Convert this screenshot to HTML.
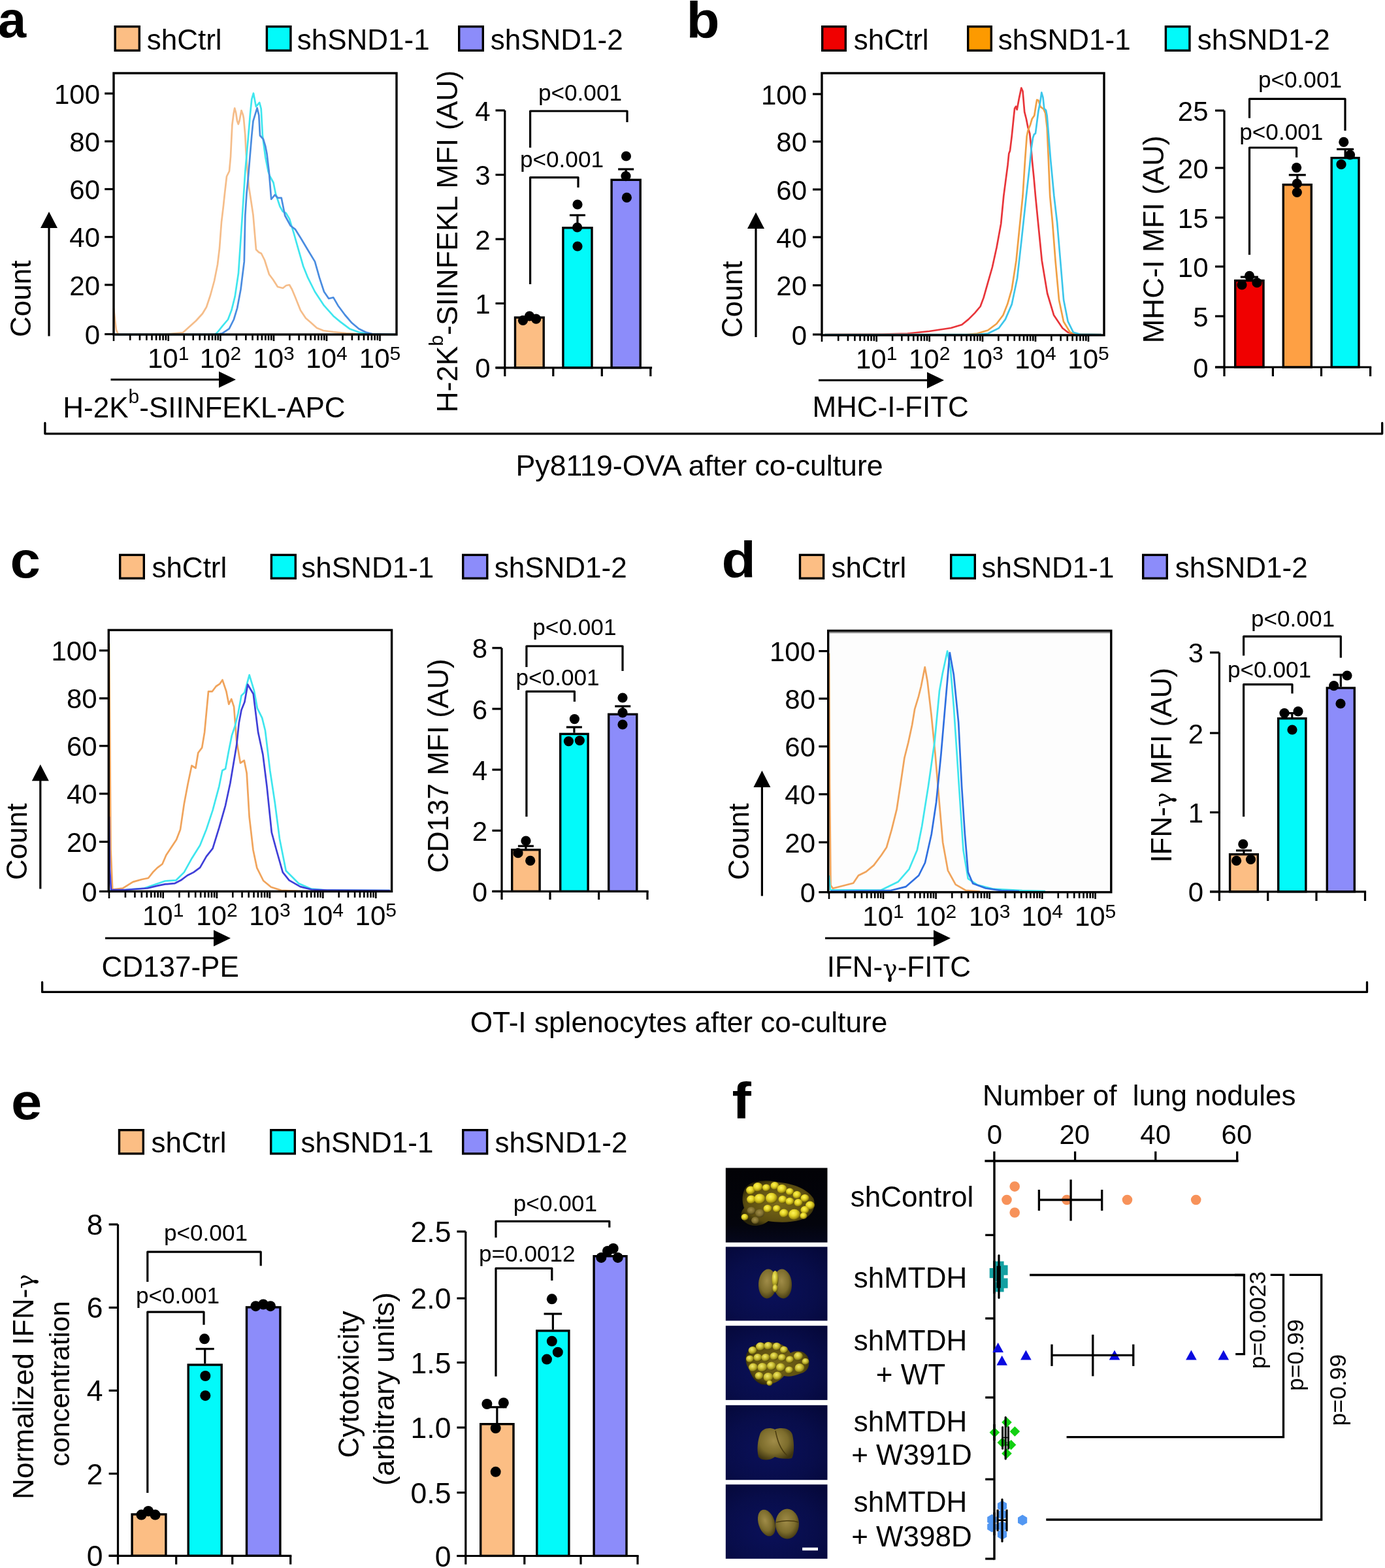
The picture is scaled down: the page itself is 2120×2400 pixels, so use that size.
<!DOCTYPE html>
<html><head><meta charset="utf-8"><title>Figure</title>
<style>html,body{margin:0;padding:0;background:#fff;width:2120px;height:2400px;overflow:hidden}svg{display:block}</style>
</head><body>
<svg width="2120" height="2400" viewBox="0 0 2120 2400" font-family="&apos;Liberation Sans&apos;, Arial, Helvetica, sans-serif">
<rect width="2120" height="2400" fill="#fff"/>
<text transform="translate(-3.2 57) scale(1 1)" x="0" y="0" font-size="78" font-weight="bold">a</text>
<rect x="176.2" y="40.7" width="37.1" height="36.6" fill="#FCBE84" stroke="#000" stroke-width="3.4"/>
<text x="224.7" y="75.5" font-size="44">shCtrl</text>
<rect x="408.4" y="40.7" width="36.5" height="36.6" fill="#02FAFA" stroke="#000" stroke-width="3.4"/>
<text x="454.7" y="75.5" font-size="44">shSND1-1</text>
<rect x="702.7" y="40.7" width="36.6" height="36.6" fill="#8C8CFA" stroke="#000" stroke-width="3.4"/>
<text x="750.7" y="75.5" font-size="44">shSND1-2</text>
<polyline points="174,472 176,490 178,505 181,512 250,512 270,510 280,509 290,500 300,491 310,480 316,470 322,452 328,430 333,405 336,380 339,340 342,315 344,296 347,270 351,262 353,240 354,219 355.4,191 357.6,174 359.2,165.5 361,172 363,185 364.8,190 366.5,185 369.5,169 372,176 373,181 375.3,207 376.4,230 378,252 380.8,285 384.2,307 387.5,329 392,382 396,386 400,388 405,398 412,420 418,428 425,439 433,441 438,437 443,436 447,443 452,455 460,475 468,487 475,493 485,502 495,506 510,508 530,510 560,512 605,512" fill="none" stroke="#F5BD8A" stroke-width="2.7" stroke-linejoin="round" stroke-linecap="butt"/>
<polyline points="176,512 329,512 333,508.5 340,499.6 349,489 354.4,474.8 359.7,453.6 365,418 370.9,330 375.3,262.9 379.7,213 383,174.3 385.3,152 388,142.7 391.9,163.2 397.2,157 399.7,166.5 401.9,207.5 406.3,240.7 410.7,262.9 413,269.5 418.5,279.5 421.8,296 428.5,316 432.9,323.8 437.6,326 443,334.9 450,357.9 457,382.7 464.2,407.5 471.3,425.2 482,446.5 496,467.7 510.3,483.7 521,492.6 535,503.2 549.3,508.5 567,511.3 605,512" fill="none" stroke="#3FE6EE" stroke-width="2.7" stroke-linejoin="round" stroke-linecap="butt"/>
<polyline points="176,512 330,512 340,510.3 350.8,503.2 357.9,489 363.2,471.3 368.5,443 373.8,400.4 375.3,330 377.5,296 379.7,274 382.5,240.7 385.3,207.5 387.5,185.4 393.6,165.4 396.3,176.5 398,207.5 403,213 406.3,224 408.5,235.2 411.8,262.9 415.2,305 420.7,298.3 425.1,302.8 430.7,302.8 436.2,330 444.7,345.5 451.8,350.8 460.7,365 471.3,382.7 482,400.4 489,425.2 496,446.5 503.2,457 510.3,455.4 517.4,467.7 528,482 538.6,494.3 549.3,503.2 560,508.5 570.5,511.3 605,512" fill="none" stroke="#4A8CE0" stroke-width="2.7" stroke-linejoin="round" stroke-linecap="butt"/>
<rect x="174" y="112" width="433" height="400" fill="none" stroke="#000" stroke-width="3.4"/>
<line x1="160.2" y1="143.1" x2="174" y2="143.1" stroke="#000" stroke-width="3.2" stroke-linecap="butt"/>
<text x="153" y="158.6" font-size="42" text-anchor="end">100</text>
<line x1="160.2" y1="216.3" x2="174" y2="216.3" stroke="#000" stroke-width="3.2" stroke-linecap="butt"/>
<text x="153" y="231.8" font-size="42" text-anchor="end">80</text>
<line x1="160.2" y1="289.5" x2="174" y2="289.5" stroke="#000" stroke-width="3.2" stroke-linecap="butt"/>
<text x="153" y="305" font-size="42" text-anchor="end">60</text>
<line x1="160.2" y1="362.7" x2="174" y2="362.7" stroke="#000" stroke-width="3.2" stroke-linecap="butt"/>
<text x="153" y="378.2" font-size="42" text-anchor="end">40</text>
<line x1="160.2" y1="436" x2="174" y2="436" stroke="#000" stroke-width="3.2" stroke-linecap="butt"/>
<text x="153" y="451.5" font-size="42" text-anchor="end">20</text>
<line x1="160.2" y1="511.5" x2="174" y2="511.5" stroke="#000" stroke-width="3.2" stroke-linecap="butt"/>
<text x="153" y="527" font-size="42" text-anchor="end">0</text>
<line x1="174" y1="512" x2="174" y2="522" stroke="#000" stroke-width="2.6" stroke-linecap="butt"/>
<line x1="199.2" y1="512" x2="199.2" y2="520.8" stroke="#000" stroke-width="2.6" stroke-linecap="butt"/>
<line x1="213.94" y1="512" x2="213.94" y2="520.8" stroke="#000" stroke-width="2.6" stroke-linecap="butt"/>
<line x1="224.39" y1="512" x2="224.39" y2="520.8" stroke="#000" stroke-width="2.6" stroke-linecap="butt"/>
<line x1="232.5" y1="512" x2="232.5" y2="520.8" stroke="#000" stroke-width="2.6" stroke-linecap="butt"/>
<line x1="239.13" y1="512" x2="239.13" y2="520.8" stroke="#000" stroke-width="2.6" stroke-linecap="butt"/>
<line x1="244.73" y1="512" x2="244.73" y2="520.8" stroke="#000" stroke-width="2.6" stroke-linecap="butt"/>
<line x1="249.59" y1="512" x2="249.59" y2="520.8" stroke="#000" stroke-width="2.6" stroke-linecap="butt"/>
<line x1="253.87" y1="512" x2="253.87" y2="520.8" stroke="#000" stroke-width="2.6" stroke-linecap="butt"/>
<line x1="257.7" y1="512" x2="257.7" y2="522" stroke="#000" stroke-width="2.6" stroke-linecap="butt"/>
<line x1="281.69" y1="512" x2="281.69" y2="520.8" stroke="#000" stroke-width="2.6" stroke-linecap="butt"/>
<line x1="295.73" y1="512" x2="295.73" y2="520.8" stroke="#000" stroke-width="2.6" stroke-linecap="butt"/>
<line x1="305.68" y1="512" x2="305.68" y2="520.8" stroke="#000" stroke-width="2.6" stroke-linecap="butt"/>
<line x1="313.41" y1="512" x2="313.41" y2="520.8" stroke="#000" stroke-width="2.6" stroke-linecap="butt"/>
<line x1="319.72" y1="512" x2="319.72" y2="520.8" stroke="#000" stroke-width="2.6" stroke-linecap="butt"/>
<line x1="325.05" y1="512" x2="325.05" y2="520.8" stroke="#000" stroke-width="2.6" stroke-linecap="butt"/>
<line x1="329.68" y1="512" x2="329.68" y2="520.8" stroke="#000" stroke-width="2.6" stroke-linecap="butt"/>
<line x1="333.75" y1="512" x2="333.75" y2="520.8" stroke="#000" stroke-width="2.6" stroke-linecap="butt"/>
<line x1="337.4" y1="512" x2="337.4" y2="522" stroke="#000" stroke-width="2.6" stroke-linecap="butt"/>
<line x1="361.96" y1="512" x2="361.96" y2="520.8" stroke="#000" stroke-width="2.6" stroke-linecap="butt"/>
<line x1="376.33" y1="512" x2="376.33" y2="520.8" stroke="#000" stroke-width="2.6" stroke-linecap="butt"/>
<line x1="386.53" y1="512" x2="386.53" y2="520.8" stroke="#000" stroke-width="2.6" stroke-linecap="butt"/>
<line x1="394.44" y1="512" x2="394.44" y2="520.8" stroke="#000" stroke-width="2.6" stroke-linecap="butt"/>
<line x1="400.9" y1="512" x2="400.9" y2="520.8" stroke="#000" stroke-width="2.6" stroke-linecap="butt"/>
<line x1="406.36" y1="512" x2="406.36" y2="520.8" stroke="#000" stroke-width="2.6" stroke-linecap="butt"/>
<line x1="411.09" y1="512" x2="411.09" y2="520.8" stroke="#000" stroke-width="2.6" stroke-linecap="butt"/>
<line x1="415.27" y1="512" x2="415.27" y2="520.8" stroke="#000" stroke-width="2.6" stroke-linecap="butt"/>
<line x1="419" y1="512" x2="419" y2="522" stroke="#000" stroke-width="2.6" stroke-linecap="butt"/>
<line x1="443.38" y1="512" x2="443.38" y2="520.8" stroke="#000" stroke-width="2.6" stroke-linecap="butt"/>
<line x1="457.65" y1="512" x2="457.65" y2="520.8" stroke="#000" stroke-width="2.6" stroke-linecap="butt"/>
<line x1="467.77" y1="512" x2="467.77" y2="520.8" stroke="#000" stroke-width="2.6" stroke-linecap="butt"/>
<line x1="475.62" y1="512" x2="475.62" y2="520.8" stroke="#000" stroke-width="2.6" stroke-linecap="butt"/>
<line x1="482.03" y1="512" x2="482.03" y2="520.8" stroke="#000" stroke-width="2.6" stroke-linecap="butt"/>
<line x1="487.45" y1="512" x2="487.45" y2="520.8" stroke="#000" stroke-width="2.6" stroke-linecap="butt"/>
<line x1="492.15" y1="512" x2="492.15" y2="520.8" stroke="#000" stroke-width="2.6" stroke-linecap="butt"/>
<line x1="496.29" y1="512" x2="496.29" y2="520.8" stroke="#000" stroke-width="2.6" stroke-linecap="butt"/>
<line x1="500" y1="512" x2="500" y2="522" stroke="#000" stroke-width="2.6" stroke-linecap="butt"/>
<line x1="524.53" y1="512" x2="524.53" y2="520.8" stroke="#000" stroke-width="2.6" stroke-linecap="butt"/>
<line x1="538.89" y1="512" x2="538.89" y2="520.8" stroke="#000" stroke-width="2.6" stroke-linecap="butt"/>
<line x1="549.07" y1="512" x2="549.07" y2="520.8" stroke="#000" stroke-width="2.6" stroke-linecap="butt"/>
<line x1="556.97" y1="512" x2="556.97" y2="520.8" stroke="#000" stroke-width="2.6" stroke-linecap="butt"/>
<line x1="563.42" y1="512" x2="563.42" y2="520.8" stroke="#000" stroke-width="2.6" stroke-linecap="butt"/>
<line x1="568.88" y1="512" x2="568.88" y2="520.8" stroke="#000" stroke-width="2.6" stroke-linecap="butt"/>
<line x1="573.6" y1="512" x2="573.6" y2="520.8" stroke="#000" stroke-width="2.6" stroke-linecap="butt"/>
<line x1="577.77" y1="512" x2="577.77" y2="520.8" stroke="#000" stroke-width="2.6" stroke-linecap="butt"/>
<line x1="581.5" y1="512" x2="581.5" y2="522" stroke="#000" stroke-width="2.6" stroke-linecap="butt"/>
<text x="257.7" y="563" font-size="42" text-anchor="middle">10<tspan dy="-12.5" font-size="30">1</tspan></text>
<text x="337.4" y="563" font-size="42" text-anchor="middle">10<tspan dy="-12.5" font-size="30">2</tspan></text>
<text x="419" y="563" font-size="42" text-anchor="middle">10<tspan dy="-12.5" font-size="30">3</tspan></text>
<text x="500" y="563" font-size="42" text-anchor="middle">10<tspan dy="-12.5" font-size="30">4</tspan></text>
<text x="581.5" y="563" font-size="42" text-anchor="middle">10<tspan dy="-12.5" font-size="30">5</tspan></text>
<line x1="75" y1="347" x2="75" y2="514.5" stroke="#000" stroke-width="3.2" stroke-linecap="butt"/>
<polygon points="75,324 62,349 88,349" fill="#000"/>
<text x="46.5" y="516" font-size="44" transform="rotate(-90 46.5 516)">Count</text>
<line x1="169.5" y1="581" x2="337" y2="581" stroke="#000" stroke-width="3.2" stroke-linecap="butt"/>
<polygon points="361,581 335,568.5 335,593.5" fill="#000"/>
<text x="96.3" y="638.7" font-size="44">H-2K<tspan dy="-22" font-size="30">b</tspan><tspan dy="22">-SIINFEKL-APC</tspan></text>
<line x1="772.8" y1="169" x2="772.8" y2="564.4" stroke="#000" stroke-width="3.2" stroke-linecap="butt"/>
<line x1="758.5" y1="169" x2="772.8" y2="169" stroke="#000" stroke-width="3.2" stroke-linecap="butt"/>
<text x="750.5" y="184.5" font-size="42" text-anchor="end">4</text>
<line x1="758.5" y1="267.5" x2="772.8" y2="267.5" stroke="#000" stroke-width="3.2" stroke-linecap="butt"/>
<text x="750.5" y="283" font-size="42" text-anchor="end">3</text>
<line x1="758.5" y1="366" x2="772.8" y2="366" stroke="#000" stroke-width="3.2" stroke-linecap="butt"/>
<text x="750.5" y="381.5" font-size="42" text-anchor="end">2</text>
<line x1="758.5" y1="464.4" x2="772.8" y2="464.4" stroke="#000" stroke-width="3.2" stroke-linecap="butt"/>
<text x="750.5" y="479.9" font-size="42" text-anchor="end">1</text>
<line x1="758.5" y1="562.8" x2="772.8" y2="562.8" stroke="#000" stroke-width="3.2" stroke-linecap="butt"/>
<text x="750.5" y="578.3" font-size="42" text-anchor="end">0</text>
<line x1="758.5" y1="562.8" x2="998.1" y2="562.8" stroke="#000" stroke-width="3.2" stroke-linecap="butt"/>
<line x1="772.8" y1="562.8" x2="772.8" y2="576" stroke="#000" stroke-width="3.2" stroke-linecap="butt"/>
<line x1="846.8" y1="562.8" x2="846.8" y2="576" stroke="#000" stroke-width="3.2" stroke-linecap="butt"/>
<line x1="921.3" y1="562.8" x2="921.3" y2="576" stroke="#000" stroke-width="3.2" stroke-linecap="butt"/>
<line x1="995.8" y1="562.8" x2="995.8" y2="576" stroke="#000" stroke-width="3.2" stroke-linecap="butt"/>
<rect x="788.5" y="486" width="43.7" height="76.7" fill="#FCBE84" stroke="#000" stroke-width="3.4"/>
<circle cx="800.5" cy="490.4" r="7.6" fill="#000"/>
<circle cx="810.5" cy="483.9" r="7.6" fill="#000"/>
<circle cx="820.6" cy="488.2" r="7.6" fill="#000"/>
<rect x="861.9" y="348.7" width="44.1" height="214" fill="#02FAFA" stroke="#000" stroke-width="3.4"/>
<line x1="883.95" y1="329.4" x2="883.95" y2="347" stroke="#000" stroke-width="3.2" stroke-linecap="butt"/>
<line x1="871.95" y1="329.4" x2="895.95" y2="329.4" stroke="#000" stroke-width="3.2" stroke-linecap="butt"/>
<circle cx="884" cy="313" r="7.6" fill="#000"/>
<circle cx="883.6" cy="348" r="7.6" fill="#000"/>
<circle cx="884" cy="377" r="7.6" fill="#000"/>
<rect x="936.1" y="275.3" width="44.1" height="287.4" fill="#8C8CFA" stroke="#000" stroke-width="3.4"/>
<line x1="958.15" y1="259" x2="958.15" y2="273.6" stroke="#000" stroke-width="3.2" stroke-linecap="butt"/>
<line x1="946.15" y1="259" x2="970.15" y2="259" stroke="#000" stroke-width="3.2" stroke-linecap="butt"/>
<circle cx="958.4" cy="239" r="7.6" fill="#000"/>
<circle cx="958" cy="269.6" r="7.6" fill="#000"/>
<circle cx="959.4" cy="302.4" r="7.6" fill="#000"/>
<polyline points="811.6,435 811.6,271.6 885,271.6 885,287" fill="none" stroke="#000" stroke-width="3.2" stroke-linejoin="round" stroke-linecap="butt"/>
<text x="860" y="256" font-size="35.2" text-anchor="middle">p&lt;0.001</text>
<polyline points="811.6,226 811.6,170 960,170 960,187" fill="none" stroke="#000" stroke-width="3.2" stroke-linejoin="round" stroke-linecap="butt"/>
<text x="888" y="154" font-size="35.2" text-anchor="middle">p&lt;0.001</text>
<text x="699.5" y="631.5" font-size="44.7" transform="rotate(-90 699.5 631.5)">H-2K<tspan dy="-22" font-size="30">b</tspan><tspan dy="22">-SIINFEKL MFI (AU)</tspan></text>
<text transform="translate(1050.5 57.5) scale(1.07 1)" x="0" y="0" font-size="78" font-weight="bold">b</text>
<rect x="1258.7" y="40.7" width="35.6" height="36.6" fill="#F00000" stroke="#000" stroke-width="3.4"/>
<text x="1306.7" y="75.5" font-size="44">shCtrl</text>
<rect x="1481.7" y="40.7" width="35.6" height="36.6" fill="#FD9A00" stroke="#000" stroke-width="3.4"/>
<text x="1527.7" y="75.5" font-size="44">shSND1-1</text>
<rect x="1784.4" y="40.7" width="36.5" height="36.6" fill="#02FAFA" stroke="#000" stroke-width="3.4"/>
<text x="1832.7" y="75.5" font-size="44">shSND1-2</text>
<polyline points="1262,512 1350,511.5 1389,510.5 1422.4,507 1455.7,502 1472.3,497 1482.3,488.9 1492.3,478.9 1500.6,469 1505.6,455.6 1512.2,432.3 1518.9,409 1525.5,379 1532.2,342.5 1536.3,300 1539,279.4 1542.5,252.9 1544.3,235.1 1546,230.7 1548.7,208.6 1551.4,182 1553.1,166 1555,163 1556.7,167.8 1560,150 1563.3,134.6 1565.5,139.5 1568.2,171.4 1570.9,182 1573.5,195.3 1576.2,204.1 1578,221.9 1579.7,244 1582.4,270.6 1585,300 1588.2,332.6 1594.8,399 1603.1,449 1613,482.2 1626.4,502.2 1634.7,508.8 1645,511.5 1686,512" fill="none" stroke="#E8353A" stroke-width="2.7" stroke-linejoin="round" stroke-linecap="butt"/>
<polyline points="1262,512 1480,512 1495.6,510.5 1512.2,505.5 1525.5,495.5 1535.5,482.2 1542.1,465.6 1548.8,442.3 1555.5,399 1560.5,349.2 1565.5,300 1569.1,244 1571.7,208.6 1573.5,199.7 1577.1,190.9 1579.7,182 1583.3,176.7 1585.9,159.9 1587.2,152.8 1589.5,153.7 1592.6,163.4 1597.4,167 1600.1,173.1 1602.7,195.3 1604.5,235.1 1607.2,300 1611,340 1615.5,399 1621,459 1628,492.2 1638,508.8 1650,511.5 1686,512" fill="none" stroke="#F0A045" stroke-width="2.7" stroke-linejoin="round" stroke-linecap="butt"/>
<polyline points="1262,512 1495,512 1512.2,510.5 1528.9,502.2 1538.8,488.9 1548.8,465.6 1557.1,425.7 1563.8,365.8 1570.9,300 1576.2,252.9 1578.8,226.3 1581,211.2 1582.8,205.9 1585,204.1 1589.5,169.6 1592.1,157.2 1594.3,141.7 1596.5,149.2 1598.3,166.1 1601,168.7 1602.7,177.6 1604.5,199.7 1608.1,244 1613.4,300 1618.1,340 1623.1,399 1628.1,459 1634.7,492.2 1643,508.8 1653,511.5 1686,512" fill="none" stroke="#3CC6EA" stroke-width="2.7" stroke-linejoin="round" stroke-linecap="butt"/>
<rect x="1258" y="112" width="432" height="401" fill="none" stroke="#000" stroke-width="3.4"/>
<line x1="1244" y1="144" x2="1258" y2="144" stroke="#000" stroke-width="3.2" stroke-linecap="butt"/>
<text x="1235" y="159.5" font-size="42" text-anchor="end">100</text>
<line x1="1244" y1="216.7" x2="1258" y2="216.7" stroke="#000" stroke-width="3.2" stroke-linecap="butt"/>
<text x="1235" y="232.2" font-size="42" text-anchor="end">80</text>
<line x1="1244" y1="290" x2="1258" y2="290" stroke="#000" stroke-width="3.2" stroke-linecap="butt"/>
<text x="1235" y="305.5" font-size="42" text-anchor="end">60</text>
<line x1="1244" y1="363" x2="1258" y2="363" stroke="#000" stroke-width="3.2" stroke-linecap="butt"/>
<text x="1235" y="378.5" font-size="42" text-anchor="end">40</text>
<line x1="1244" y1="436.7" x2="1258" y2="436.7" stroke="#000" stroke-width="3.2" stroke-linecap="butt"/>
<text x="1235" y="452.2" font-size="42" text-anchor="end">20</text>
<line x1="1244" y1="512" x2="1258" y2="512" stroke="#000" stroke-width="3.2" stroke-linecap="butt"/>
<text x="1235" y="527.5" font-size="42" text-anchor="end">0</text>
<line x1="1258" y1="513" x2="1258" y2="523" stroke="#000" stroke-width="2.6" stroke-linecap="butt"/>
<line x1="1283.2" y1="513" x2="1283.2" y2="521.8" stroke="#000" stroke-width="2.6" stroke-linecap="butt"/>
<line x1="1297.94" y1="513" x2="1297.94" y2="521.8" stroke="#000" stroke-width="2.6" stroke-linecap="butt"/>
<line x1="1308.39" y1="513" x2="1308.39" y2="521.8" stroke="#000" stroke-width="2.6" stroke-linecap="butt"/>
<line x1="1316.5" y1="513" x2="1316.5" y2="521.8" stroke="#000" stroke-width="2.6" stroke-linecap="butt"/>
<line x1="1323.13" y1="513" x2="1323.13" y2="521.8" stroke="#000" stroke-width="2.6" stroke-linecap="butt"/>
<line x1="1328.73" y1="513" x2="1328.73" y2="521.8" stroke="#000" stroke-width="2.6" stroke-linecap="butt"/>
<line x1="1333.59" y1="513" x2="1333.59" y2="521.8" stroke="#000" stroke-width="2.6" stroke-linecap="butt"/>
<line x1="1337.87" y1="513" x2="1337.87" y2="521.8" stroke="#000" stroke-width="2.6" stroke-linecap="butt"/>
<line x1="1341.7" y1="513" x2="1341.7" y2="523" stroke="#000" stroke-width="2.6" stroke-linecap="butt"/>
<line x1="1366.08" y1="513" x2="1366.08" y2="521.8" stroke="#000" stroke-width="2.6" stroke-linecap="butt"/>
<line x1="1380.35" y1="513" x2="1380.35" y2="521.8" stroke="#000" stroke-width="2.6" stroke-linecap="butt"/>
<line x1="1390.47" y1="513" x2="1390.47" y2="521.8" stroke="#000" stroke-width="2.6" stroke-linecap="butt"/>
<line x1="1398.32" y1="513" x2="1398.32" y2="521.8" stroke="#000" stroke-width="2.6" stroke-linecap="butt"/>
<line x1="1404.73" y1="513" x2="1404.73" y2="521.8" stroke="#000" stroke-width="2.6" stroke-linecap="butt"/>
<line x1="1410.15" y1="513" x2="1410.15" y2="521.8" stroke="#000" stroke-width="2.6" stroke-linecap="butt"/>
<line x1="1414.85" y1="513" x2="1414.85" y2="521.8" stroke="#000" stroke-width="2.6" stroke-linecap="butt"/>
<line x1="1418.99" y1="513" x2="1418.99" y2="521.8" stroke="#000" stroke-width="2.6" stroke-linecap="butt"/>
<line x1="1422.7" y1="513" x2="1422.7" y2="523" stroke="#000" stroke-width="2.6" stroke-linecap="butt"/>
<line x1="1447.17" y1="513" x2="1447.17" y2="521.8" stroke="#000" stroke-width="2.6" stroke-linecap="butt"/>
<line x1="1461.49" y1="513" x2="1461.49" y2="521.8" stroke="#000" stroke-width="2.6" stroke-linecap="butt"/>
<line x1="1471.65" y1="513" x2="1471.65" y2="521.8" stroke="#000" stroke-width="2.6" stroke-linecap="butt"/>
<line x1="1479.53" y1="513" x2="1479.53" y2="521.8" stroke="#000" stroke-width="2.6" stroke-linecap="butt"/>
<line x1="1485.96" y1="513" x2="1485.96" y2="521.8" stroke="#000" stroke-width="2.6" stroke-linecap="butt"/>
<line x1="1491.41" y1="513" x2="1491.41" y2="521.8" stroke="#000" stroke-width="2.6" stroke-linecap="butt"/>
<line x1="1496.12" y1="513" x2="1496.12" y2="521.8" stroke="#000" stroke-width="2.6" stroke-linecap="butt"/>
<line x1="1500.28" y1="513" x2="1500.28" y2="521.8" stroke="#000" stroke-width="2.6" stroke-linecap="butt"/>
<line x1="1504" y1="513" x2="1504" y2="523" stroke="#000" stroke-width="2.6" stroke-linecap="butt"/>
<line x1="1528.38" y1="513" x2="1528.38" y2="521.8" stroke="#000" stroke-width="2.6" stroke-linecap="butt"/>
<line x1="1542.65" y1="513" x2="1542.65" y2="521.8" stroke="#000" stroke-width="2.6" stroke-linecap="butt"/>
<line x1="1552.77" y1="513" x2="1552.77" y2="521.8" stroke="#000" stroke-width="2.6" stroke-linecap="butt"/>
<line x1="1560.62" y1="513" x2="1560.62" y2="521.8" stroke="#000" stroke-width="2.6" stroke-linecap="butt"/>
<line x1="1567.03" y1="513" x2="1567.03" y2="521.8" stroke="#000" stroke-width="2.6" stroke-linecap="butt"/>
<line x1="1572.45" y1="513" x2="1572.45" y2="521.8" stroke="#000" stroke-width="2.6" stroke-linecap="butt"/>
<line x1="1577.15" y1="513" x2="1577.15" y2="521.8" stroke="#000" stroke-width="2.6" stroke-linecap="butt"/>
<line x1="1581.29" y1="513" x2="1581.29" y2="521.8" stroke="#000" stroke-width="2.6" stroke-linecap="butt"/>
<line x1="1585" y1="513" x2="1585" y2="523" stroke="#000" stroke-width="2.6" stroke-linecap="butt"/>
<line x1="1609.38" y1="513" x2="1609.38" y2="521.8" stroke="#000" stroke-width="2.6" stroke-linecap="butt"/>
<line x1="1623.65" y1="513" x2="1623.65" y2="521.8" stroke="#000" stroke-width="2.6" stroke-linecap="butt"/>
<line x1="1633.77" y1="513" x2="1633.77" y2="521.8" stroke="#000" stroke-width="2.6" stroke-linecap="butt"/>
<line x1="1641.62" y1="513" x2="1641.62" y2="521.8" stroke="#000" stroke-width="2.6" stroke-linecap="butt"/>
<line x1="1648.03" y1="513" x2="1648.03" y2="521.8" stroke="#000" stroke-width="2.6" stroke-linecap="butt"/>
<line x1="1653.45" y1="513" x2="1653.45" y2="521.8" stroke="#000" stroke-width="2.6" stroke-linecap="butt"/>
<line x1="1658.15" y1="513" x2="1658.15" y2="521.8" stroke="#000" stroke-width="2.6" stroke-linecap="butt"/>
<line x1="1662.29" y1="513" x2="1662.29" y2="521.8" stroke="#000" stroke-width="2.6" stroke-linecap="butt"/>
<line x1="1666" y1="513" x2="1666" y2="523" stroke="#000" stroke-width="2.6" stroke-linecap="butt"/>
<text x="1341.7" y="563.5" font-size="42" text-anchor="middle">10<tspan dy="-12.5" font-size="30">1</tspan></text>
<text x="1422.7" y="563.5" font-size="42" text-anchor="middle">10<tspan dy="-12.5" font-size="30">2</tspan></text>
<text x="1504" y="563.5" font-size="42" text-anchor="middle">10<tspan dy="-12.5" font-size="30">3</tspan></text>
<text x="1585" y="563.5" font-size="42" text-anchor="middle">10<tspan dy="-12.5" font-size="30">4</tspan></text>
<text x="1666" y="563.5" font-size="42" text-anchor="middle">10<tspan dy="-12.5" font-size="30">5</tspan></text>
<line x1="1157" y1="348" x2="1157" y2="516" stroke="#000" stroke-width="3.2" stroke-linecap="butt"/>
<polygon points="1157,325 1144,350 1170,350" fill="#000"/>
<text x="1136.2" y="517" font-size="44" transform="rotate(-90 1136.2 517)">Count</text>
<line x1="1253" y1="582" x2="1421" y2="582" stroke="#000" stroke-width="3.2" stroke-linecap="butt"/>
<polygon points="1445,582 1419,569.5 1419,594.5" fill="#000"/>
<text x="1243.4" y="638" font-size="44">MHC-I-FITC</text>
<line x1="1874" y1="169.2" x2="1874" y2="563.6" stroke="#000" stroke-width="3.2" stroke-linecap="butt"/>
<line x1="1860" y1="169.2" x2="1874" y2="169.2" stroke="#000" stroke-width="3.2" stroke-linecap="butt"/>
<text x="1849.5" y="184.7" font-size="42" text-anchor="end">25</text>
<line x1="1860" y1="257" x2="1874" y2="257" stroke="#000" stroke-width="3.2" stroke-linecap="butt"/>
<text x="1849.5" y="272.5" font-size="42" text-anchor="end">20</text>
<line x1="1860" y1="333" x2="1874" y2="333" stroke="#000" stroke-width="3.2" stroke-linecap="butt"/>
<text x="1849.5" y="348.5" font-size="42" text-anchor="end">15</text>
<line x1="1860" y1="408" x2="1874" y2="408" stroke="#000" stroke-width="3.2" stroke-linecap="butt"/>
<text x="1849.5" y="423.5" font-size="42" text-anchor="end">10</text>
<line x1="1860" y1="484" x2="1874" y2="484" stroke="#000" stroke-width="3.2" stroke-linecap="butt"/>
<text x="1849.5" y="499.5" font-size="42" text-anchor="end">5</text>
<line x1="1860" y1="562" x2="1874" y2="562" stroke="#000" stroke-width="3.2" stroke-linecap="butt"/>
<text x="1849.5" y="577.5" font-size="42" text-anchor="end">0</text>
<line x1="1860" y1="562" x2="2099.2" y2="562" stroke="#000" stroke-width="3.2" stroke-linecap="butt"/>
<line x1="1874" y1="562" x2="1874" y2="576" stroke="#000" stroke-width="3.2" stroke-linecap="butt"/>
<line x1="1948.4" y1="562" x2="1948.4" y2="576" stroke="#000" stroke-width="3.2" stroke-linecap="butt"/>
<line x1="2022.5" y1="562" x2="2022.5" y2="576" stroke="#000" stroke-width="3.2" stroke-linecap="butt"/>
<line x1="2097.6" y1="562" x2="2097.6" y2="576" stroke="#000" stroke-width="3.2" stroke-linecap="butt"/>
<rect x="1890.7" y="429.5" width="43.3" height="132.4" fill="#F00000" stroke="#000" stroke-width="3.4"/>
<line x1="1912.35" y1="424" x2="1912.35" y2="427.8" stroke="#000" stroke-width="3.2" stroke-linecap="butt"/>
<line x1="1898.85" y1="424" x2="1925.85" y2="424" stroke="#000" stroke-width="3.2" stroke-linecap="butt"/>
<circle cx="1901" cy="436" r="7.6" fill="#000"/>
<circle cx="1912.5" cy="422.4" r="7.6" fill="#000"/>
<circle cx="1924" cy="432.7" r="7.6" fill="#000"/>
<rect x="1964.3" y="282.7" width="43" height="279.2" fill="#FEA044" stroke="#000" stroke-width="3.4"/>
<line x1="1985.8" y1="267.8" x2="1985.8" y2="281" stroke="#000" stroke-width="3.2" stroke-linecap="butt"/>
<line x1="1972.8" y1="267.8" x2="1998.8" y2="267.8" stroke="#000" stroke-width="3.2" stroke-linecap="butt"/>
<circle cx="1984.6" cy="256.6" r="7.6" fill="#000"/>
<circle cx="1985.3" cy="281" r="7.6" fill="#000"/>
<circle cx="1985.3" cy="294.5" r="7.6" fill="#000"/>
<rect x="2038.2" y="241.7" width="41.8" height="320.2" fill="#02FAFA" stroke="#000" stroke-width="3.4"/>
<line x1="2059.1" y1="228.4" x2="2059.1" y2="240" stroke="#000" stroke-width="3.2" stroke-linecap="butt"/>
<line x1="2046.1" y1="228.4" x2="2072.1" y2="228.4" stroke="#000" stroke-width="3.2" stroke-linecap="butt"/>
<circle cx="2056.8" cy="217.4" r="7.6" fill="#000"/>
<circle cx="2066.6" cy="237" r="7.6" fill="#000"/>
<circle cx="2053" cy="251.7" r="7.6" fill="#000"/>
<polyline points="1912.5,390 1912.5,226 1984.6,226 1984.6,241" fill="none" stroke="#000" stroke-width="3.2" stroke-linejoin="round" stroke-linecap="butt"/>
<text x="1961.3" y="213.7" font-size="35.2" text-anchor="middle">p&lt;0.001</text>
<polyline points="1912.5,180.7 1912.5,151.4 2059,151.4 2059,200" fill="none" stroke="#000" stroke-width="3.2" stroke-linejoin="round" stroke-linecap="butt"/>
<text x="1990" y="134" font-size="35.2" text-anchor="middle">p&lt;0.001</text>
<text x="1781" y="525.3" font-size="44" transform="rotate(-90 1781 525.3)">MHC-I MFI (AU)</text>
<polyline points="68.9,647.5 68.9,663.8 2115.7,663.8 2115.7,647.5" fill="none" stroke="#000" stroke-width="3.3" stroke-linejoin="round" stroke-linecap="round"/>
<text x="1070.6" y="727.8" font-size="44.7" text-anchor="middle">Py8119-OVA after co-culture</text>
<text transform="translate(15.5 883.5) scale(1.07 1)" x="0" y="0" font-size="78" font-weight="bold">c</text>
<rect x="183.7" y="849.4" width="36.6" height="35.8" fill="#FCBE84" stroke="#000" stroke-width="3.4"/>
<text x="232.4" y="884" font-size="44">shCtrl</text>
<rect x="415.4" y="849.4" width="36.9" height="35.8" fill="#02FAFA" stroke="#000" stroke-width="3.4"/>
<text x="461.3" y="884" font-size="44">shSND1-1</text>
<rect x="708.7" y="849.4" width="37.1" height="35.8" fill="#8C8CFA" stroke="#000" stroke-width="3.4"/>
<text x="756.7" y="884" font-size="44">shSND1-2</text>
<polyline points="167,985 168,1100 169.5,1300 172.2,1361.6 187.9,1359.7 203.5,1349.9 217.2,1346 227,1344 234.8,1334.2 240.7,1328.4 248.5,1322.5 254.4,1308.8 262.2,1297 270,1285.3 276,1269.7 281.8,1230.5 287.7,1199.2 293.5,1171.8 299.4,1175.7 303.3,1152.3 309.2,1144.4 313.1,1121 319,1058.3 324.9,1058.3 330.7,1050.5 336.6,1046.6 340.5,1040.7 346.4,1058.3 350.3,1077.9 354.2,1070 358.1,1081.8 362,1132.7 367.9,1167.9 373.8,1164 377.7,1183.6 381.6,1250 387.5,1301 393.3,1328.4 403.1,1348 414.9,1357.7 430.5,1362.8 460,1364" fill="none" stroke="#F0A45C" stroke-width="2.7" stroke-linejoin="round" stroke-linecap="butt"/>
<polyline points="168,1363 191.7,1362 220.9,1359.5 252.6,1348.5 269.6,1347.3 281.8,1335.1 294,1313.2 306.2,1293.7 315.9,1269.4 325.6,1240.1 335.4,1203.6 340.3,1179.2 345.1,1176.8 350,1150 354.9,1125.6 359.8,1111 364.6,1091.5 369.5,1064.7 374.4,1059.9 381.7,1033.1 389,1057.4 393.9,1084.2 401.2,1098.9 406,1118.3 413.3,1179.2 420.7,1228 428,1284 437.7,1332.7 447.5,1342.5 457.2,1352.2 476.7,1360.7 500,1362.6 597,1363" fill="none" stroke="#3FE6EE" stroke-width="2.7" stroke-linejoin="round" stroke-linecap="butt"/>
<polyline points="167,1250 168,1330 170,1362 191.7,1362 225.8,1359.5 240.4,1355.9 252.6,1353.4 267.2,1352.2 276.9,1347.3 286.7,1340 296.4,1335.1 306.2,1327.8 315.9,1310.8 325.6,1298.6 335.4,1266.9 345.1,1232.8 352.4,1198.7 357.3,1169.5 362.2,1140.3 365.8,1106.2 369.5,1086.7 374.4,1074.5 379.2,1047.7 387.8,1062.3 395.1,1120.8 402.4,1154.9 408.5,1203.6 415.8,1274.2 423.1,1301 432.8,1335.1 442.6,1347.3 459.6,1357.1 476.7,1361.5 501,1362.6 597,1363" fill="none" stroke="#3F3FD8" stroke-width="2.7" stroke-linejoin="round" stroke-linecap="butt"/>
<rect x="166.3" y="964.4" width="433.3" height="400" fill="none" stroke="#000" stroke-width="3.4"/>
<line x1="152" y1="995.7" x2="166.3" y2="995.7" stroke="#000" stroke-width="3.2" stroke-linecap="butt"/>
<text x="148.6" y="1011.2" font-size="42" text-anchor="end">100</text>
<line x1="152" y1="1068.9" x2="166.3" y2="1068.9" stroke="#000" stroke-width="3.2" stroke-linecap="butt"/>
<text x="148.6" y="1084.4" font-size="42" text-anchor="end">80</text>
<line x1="152" y1="1141.7" x2="166.3" y2="1141.7" stroke="#000" stroke-width="3.2" stroke-linecap="butt"/>
<text x="148.6" y="1157.2" font-size="42" text-anchor="end">60</text>
<line x1="152" y1="1214.9" x2="166.3" y2="1214.9" stroke="#000" stroke-width="3.2" stroke-linecap="butt"/>
<text x="148.6" y="1230.4" font-size="42" text-anchor="end">40</text>
<line x1="152" y1="1288.4" x2="166.3" y2="1288.4" stroke="#000" stroke-width="3.2" stroke-linecap="butt"/>
<text x="148.6" y="1303.9" font-size="42" text-anchor="end">20</text>
<line x1="152" y1="1364.4" x2="166.3" y2="1364.4" stroke="#000" stroke-width="3.2" stroke-linecap="butt"/>
<text x="148.6" y="1379.9" font-size="42" text-anchor="end">0</text>
<line x1="167" y1="1364.4" x2="167" y2="1375" stroke="#000" stroke-width="2.6" stroke-linecap="butt"/>
<line x1="191.9" y1="1364.4" x2="191.9" y2="1373.8" stroke="#000" stroke-width="2.6" stroke-linecap="butt"/>
<line x1="206.46" y1="1364.4" x2="206.46" y2="1373.8" stroke="#000" stroke-width="2.6" stroke-linecap="butt"/>
<line x1="216.79" y1="1364.4" x2="216.79" y2="1373.8" stroke="#000" stroke-width="2.6" stroke-linecap="butt"/>
<line x1="224.8" y1="1364.4" x2="224.8" y2="1373.8" stroke="#000" stroke-width="2.6" stroke-linecap="butt"/>
<line x1="231.35" y1="1364.4" x2="231.35" y2="1373.8" stroke="#000" stroke-width="2.6" stroke-linecap="butt"/>
<line x1="236.89" y1="1364.4" x2="236.89" y2="1373.8" stroke="#000" stroke-width="2.6" stroke-linecap="butt"/>
<line x1="241.69" y1="1364.4" x2="241.69" y2="1373.8" stroke="#000" stroke-width="2.6" stroke-linecap="butt"/>
<line x1="245.92" y1="1364.4" x2="245.92" y2="1373.8" stroke="#000" stroke-width="2.6" stroke-linecap="butt"/>
<line x1="249.7" y1="1364.4" x2="249.7" y2="1375" stroke="#000" stroke-width="2.6" stroke-linecap="butt"/>
<line x1="274.44" y1="1364.4" x2="274.44" y2="1373.8" stroke="#000" stroke-width="2.6" stroke-linecap="butt"/>
<line x1="288.92" y1="1364.4" x2="288.92" y2="1373.8" stroke="#000" stroke-width="2.6" stroke-linecap="butt"/>
<line x1="299.19" y1="1364.4" x2="299.19" y2="1373.8" stroke="#000" stroke-width="2.6" stroke-linecap="butt"/>
<line x1="307.16" y1="1364.4" x2="307.16" y2="1373.8" stroke="#000" stroke-width="2.6" stroke-linecap="butt"/>
<line x1="313.66" y1="1364.4" x2="313.66" y2="1373.8" stroke="#000" stroke-width="2.6" stroke-linecap="butt"/>
<line x1="319.17" y1="1364.4" x2="319.17" y2="1373.8" stroke="#000" stroke-width="2.6" stroke-linecap="butt"/>
<line x1="323.93" y1="1364.4" x2="323.93" y2="1373.8" stroke="#000" stroke-width="2.6" stroke-linecap="butt"/>
<line x1="328.14" y1="1364.4" x2="328.14" y2="1373.8" stroke="#000" stroke-width="2.6" stroke-linecap="butt"/>
<line x1="331.9" y1="1364.4" x2="331.9" y2="1375" stroke="#000" stroke-width="2.6" stroke-linecap="butt"/>
<line x1="356.28" y1="1364.4" x2="356.28" y2="1373.8" stroke="#000" stroke-width="2.6" stroke-linecap="butt"/>
<line x1="370.55" y1="1364.4" x2="370.55" y2="1373.8" stroke="#000" stroke-width="2.6" stroke-linecap="butt"/>
<line x1="380.67" y1="1364.4" x2="380.67" y2="1373.8" stroke="#000" stroke-width="2.6" stroke-linecap="butt"/>
<line x1="388.52" y1="1364.4" x2="388.52" y2="1373.8" stroke="#000" stroke-width="2.6" stroke-linecap="butt"/>
<line x1="394.93" y1="1364.4" x2="394.93" y2="1373.8" stroke="#000" stroke-width="2.6" stroke-linecap="butt"/>
<line x1="400.35" y1="1364.4" x2="400.35" y2="1373.8" stroke="#000" stroke-width="2.6" stroke-linecap="butt"/>
<line x1="405.05" y1="1364.4" x2="405.05" y2="1373.8" stroke="#000" stroke-width="2.6" stroke-linecap="butt"/>
<line x1="409.19" y1="1364.4" x2="409.19" y2="1373.8" stroke="#000" stroke-width="2.6" stroke-linecap="butt"/>
<line x1="412.9" y1="1364.4" x2="412.9" y2="1375" stroke="#000" stroke-width="2.6" stroke-linecap="butt"/>
<line x1="437.4" y1="1364.4" x2="437.4" y2="1373.8" stroke="#000" stroke-width="2.6" stroke-linecap="butt"/>
<line x1="451.74" y1="1364.4" x2="451.74" y2="1373.8" stroke="#000" stroke-width="2.6" stroke-linecap="butt"/>
<line x1="461.91" y1="1364.4" x2="461.91" y2="1373.8" stroke="#000" stroke-width="2.6" stroke-linecap="butt"/>
<line x1="469.8" y1="1364.4" x2="469.8" y2="1373.8" stroke="#000" stroke-width="2.6" stroke-linecap="butt"/>
<line x1="476.24" y1="1364.4" x2="476.24" y2="1373.8" stroke="#000" stroke-width="2.6" stroke-linecap="butt"/>
<line x1="481.69" y1="1364.4" x2="481.69" y2="1373.8" stroke="#000" stroke-width="2.6" stroke-linecap="butt"/>
<line x1="486.41" y1="1364.4" x2="486.41" y2="1373.8" stroke="#000" stroke-width="2.6" stroke-linecap="butt"/>
<line x1="490.58" y1="1364.4" x2="490.58" y2="1373.8" stroke="#000" stroke-width="2.6" stroke-linecap="butt"/>
<line x1="494.3" y1="1364.4" x2="494.3" y2="1375" stroke="#000" stroke-width="2.6" stroke-linecap="butt"/>
<line x1="518.68" y1="1364.4" x2="518.68" y2="1373.8" stroke="#000" stroke-width="2.6" stroke-linecap="butt"/>
<line x1="532.95" y1="1364.4" x2="532.95" y2="1373.8" stroke="#000" stroke-width="2.6" stroke-linecap="butt"/>
<line x1="543.07" y1="1364.4" x2="543.07" y2="1373.8" stroke="#000" stroke-width="2.6" stroke-linecap="butt"/>
<line x1="550.92" y1="1364.4" x2="550.92" y2="1373.8" stroke="#000" stroke-width="2.6" stroke-linecap="butt"/>
<line x1="557.33" y1="1364.4" x2="557.33" y2="1373.8" stroke="#000" stroke-width="2.6" stroke-linecap="butt"/>
<line x1="562.75" y1="1364.4" x2="562.75" y2="1373.8" stroke="#000" stroke-width="2.6" stroke-linecap="butt"/>
<line x1="567.45" y1="1364.4" x2="567.45" y2="1373.8" stroke="#000" stroke-width="2.6" stroke-linecap="butt"/>
<line x1="571.59" y1="1364.4" x2="571.59" y2="1373.8" stroke="#000" stroke-width="2.6" stroke-linecap="butt"/>
<line x1="575.3" y1="1364.4" x2="575.3" y2="1375" stroke="#000" stroke-width="2.6" stroke-linecap="butt"/>
<text x="249.7" y="1415.5" font-size="42" text-anchor="middle">10<tspan dy="-12.5" font-size="30">1</tspan></text>
<text x="331.9" y="1415.5" font-size="42" text-anchor="middle">10<tspan dy="-12.5" font-size="30">2</tspan></text>
<text x="412.9" y="1415.5" font-size="42" text-anchor="middle">10<tspan dy="-12.5" font-size="30">3</tspan></text>
<text x="494.3" y="1415.5" font-size="42" text-anchor="middle">10<tspan dy="-12.5" font-size="30">4</tspan></text>
<text x="575.3" y="1415.5" font-size="42" text-anchor="middle">10<tspan dy="-12.5" font-size="30">5</tspan></text>
<line x1="61.8" y1="1193.3" x2="61.8" y2="1360.5" stroke="#000" stroke-width="3.2" stroke-linecap="butt"/>
<polygon points="61.8,1169.9 48.8,1195.3 74.8,1195.3" fill="#000"/>
<text x="40.5" y="1347" font-size="44" transform="rotate(-90 40.5 1347)">Count</text>
<line x1="161" y1="1436" x2="329" y2="1436" stroke="#000" stroke-width="3.2" stroke-linecap="butt"/>
<polygon points="353,1436 327,1423.5 327,1448.5" fill="#000"/>
<text x="155.5" y="1494.7" font-size="44">CD137-PE</text>
<line x1="768" y1="991.8" x2="768" y2="1366" stroke="#000" stroke-width="3.2" stroke-linecap="butt"/>
<line x1="753.4" y1="991.8" x2="768" y2="991.8" stroke="#000" stroke-width="3.2" stroke-linecap="butt"/>
<text x="746" y="1007.3" font-size="42" text-anchor="end">8</text>
<line x1="753.4" y1="1085" x2="768" y2="1085" stroke="#000" stroke-width="3.2" stroke-linecap="butt"/>
<text x="746" y="1100.5" font-size="42" text-anchor="end">6</text>
<line x1="753.4" y1="1178.1" x2="768" y2="1178.1" stroke="#000" stroke-width="3.2" stroke-linecap="butt"/>
<text x="746" y="1193.6" font-size="42" text-anchor="end">4</text>
<line x1="753.4" y1="1271.3" x2="768" y2="1271.3" stroke="#000" stroke-width="3.2" stroke-linecap="butt"/>
<text x="746" y="1286.8" font-size="42" text-anchor="end">2</text>
<line x1="753.4" y1="1364.4" x2="768" y2="1364.4" stroke="#000" stroke-width="3.2" stroke-linecap="butt"/>
<text x="746" y="1379.9" font-size="42" text-anchor="end">0</text>
<line x1="753.4" y1="1364.4" x2="992.6" y2="1364.4" stroke="#000" stroke-width="3.2" stroke-linecap="butt"/>
<line x1="768" y1="1364.4" x2="768" y2="1377" stroke="#000" stroke-width="3.2" stroke-linecap="butt"/>
<line x1="842" y1="1364.4" x2="842" y2="1377" stroke="#000" stroke-width="3.2" stroke-linecap="butt"/>
<line x1="916.6" y1="1364.4" x2="916.6" y2="1377" stroke="#000" stroke-width="3.2" stroke-linecap="butt"/>
<line x1="991" y1="1364.4" x2="991" y2="1377" stroke="#000" stroke-width="3.2" stroke-linecap="butt"/>
<rect x="783.7" y="1300.7" width="42.4" height="63.6" fill="#FCBE84" stroke="#000" stroke-width="3.4"/>
<line x1="804.9" y1="1295" x2="804.9" y2="1299" stroke="#000" stroke-width="3.2" stroke-linecap="butt"/>
<line x1="792.9" y1="1295" x2="816.9" y2="1295" stroke="#000" stroke-width="3.2" stroke-linecap="butt"/>
<circle cx="805" cy="1287" r="7.6" fill="#000"/>
<circle cx="793" cy="1305.7" r="7.6" fill="#000"/>
<circle cx="811.7" cy="1317.4" r="7.6" fill="#000"/>
<rect x="857.7" y="1123.4" width="42.4" height="240.9" fill="#02FAFA" stroke="#000" stroke-width="3.4"/>
<line x1="878.9" y1="1113" x2="878.9" y2="1121.7" stroke="#000" stroke-width="3.2" stroke-linecap="butt"/>
<line x1="866.9" y1="1113" x2="890.9" y2="1113" stroke="#000" stroke-width="3.2" stroke-linecap="butt"/>
<circle cx="879.4" cy="1100.6" r="7.6" fill="#000"/>
<circle cx="870.4" cy="1134.6" r="7.6" fill="#000"/>
<circle cx="887.3" cy="1133.5" r="7.6" fill="#000"/>
<rect x="931.7" y="1093.3" width="43.1" height="271" fill="#8C8CFA" stroke="#000" stroke-width="3.4"/>
<line x1="953.25" y1="1081" x2="953.25" y2="1091.6" stroke="#000" stroke-width="3.2" stroke-linecap="butt"/>
<line x1="941.25" y1="1081" x2="965.25" y2="1081" stroke="#000" stroke-width="3.2" stroke-linecap="butt"/>
<circle cx="953" cy="1068" r="7.6" fill="#000"/>
<circle cx="953" cy="1090.8" r="7.6" fill="#000"/>
<circle cx="953" cy="1109" r="7.6" fill="#000"/>
<polyline points="805.9,1250 805.9,1058.3 879.4,1058.3 879.4,1074" fill="none" stroke="#000" stroke-width="3.2" stroke-linejoin="round" stroke-linecap="butt"/>
<text x="853.6" y="1048.5" font-size="35.2" text-anchor="middle">p&lt;0.001</text>
<polyline points="805.9,1021 805.9,989 953,989 953,1027" fill="none" stroke="#000" stroke-width="3.2" stroke-linejoin="round" stroke-linecap="butt"/>
<text x="879.4" y="972.2" font-size="35.2" text-anchor="middle">p&lt;0.001</text>
<text x="686.3" y="1336" font-size="44" transform="rotate(-90 686.3 1336)">CD137 MFI (AU)</text>
<text transform="translate(1104.5 883.5) scale(1.1 1)" x="0" y="0" font-size="78" font-weight="bold">d</text>
<rect x="1224.5" y="849.4" width="36.1" height="35.8" fill="#FCBE84" stroke="#000" stroke-width="3.4"/>
<text x="1272.4" y="884" font-size="44">shCtrl</text>
<rect x="1455.7" y="849.4" width="36.6" height="35.8" fill="#02FAFA" stroke="#000" stroke-width="3.4"/>
<text x="1502.5" y="884" font-size="44">shSND1-1</text>
<rect x="1749.7" y="849.4" width="36.6" height="35.8" fill="#8C8CFA" stroke="#000" stroke-width="3.4"/>
<text x="1798.7" y="884" font-size="44">shSND1-2</text>
<rect x="1267.7" y="965.4" width="433.1" height="400.2" fill="#FDFDFD"/>
<polyline points="1269,1000 1270,1200 1271.5,1355 1274.8,1359.7 1290.5,1355.8 1306.1,1351.8 1314,1340 1325.7,1334.2 1337.5,1324.4 1349.2,1308.8 1357,1297 1364.9,1269.7 1372.7,1238.3 1378.6,1199.2 1384.4,1160 1390.3,1136.6 1396.2,1109.2 1400.1,1085.7 1406,1066.1 1409.9,1050.5 1415.7,1021.1 1419.6,1042.7 1425.5,1093.5 1431.4,1152.3 1437.3,1222.7 1443.1,1289.2 1450.9,1332.3 1462.7,1353.8 1478.4,1362.8 1500,1364.5" fill="none" stroke="#F0A45C" stroke-width="2.7" stroke-linejoin="round" stroke-linecap="butt"/>
<polyline points="1269,1340 1271,1362 1348.5,1362.5 1374.6,1349.8 1391.6,1330.3 1403.9,1301 1411.2,1264.5 1420.9,1203.6 1430.6,1135.4 1438,1057.4 1442.8,1030.6 1450.1,996.5 1455,1023.3 1459.9,1081.8 1464.8,1154.9 1469.6,1228 1474.5,1301 1481.8,1344.9 1496.4,1354.6 1520.8,1360.7 1564.6,1363.2 1600,1364" fill="none" stroke="#3FE6EE" stroke-width="2.7" stroke-linejoin="round" stroke-linecap="butt"/>
<polyline points="1271,1364 1362.4,1363.2 1386.8,1357.1 1406.3,1340 1416,1320.5 1425.8,1276.7 1433.1,1228 1440.4,1154.9 1447.7,1069.6 1453.8,999 1459.9,1033.1 1467.2,1106.2 1472.1,1203.6 1476.9,1276.7 1481.8,1335.1 1489.1,1352.2 1508.6,1359.5 1532.9,1363.2 1560,1364" fill="none" stroke="#2F6FE0" stroke-width="2.7" stroke-linejoin="round" stroke-linecap="butt"/>
<rect x="1267.7" y="965.4" width="433.1" height="400.2" fill="none" stroke="#000" stroke-width="3.4"/>
<line x1="1253.3" y1="996.6" x2="1267.7" y2="996.6" stroke="#000" stroke-width="3.2" stroke-linecap="butt"/>
<text x="1248" y="1012.1" font-size="42" text-anchor="end">100</text>
<line x1="1253.3" y1="1069.3" x2="1267.7" y2="1069.3" stroke="#000" stroke-width="3.2" stroke-linecap="butt"/>
<text x="1248" y="1084.8" font-size="42" text-anchor="end">80</text>
<line x1="1253.3" y1="1142.5" x2="1267.7" y2="1142.5" stroke="#000" stroke-width="3.2" stroke-linecap="butt"/>
<text x="1248" y="1158" font-size="42" text-anchor="end">60</text>
<line x1="1253.3" y1="1215.7" x2="1267.7" y2="1215.7" stroke="#000" stroke-width="3.2" stroke-linecap="butt"/>
<text x="1248" y="1231.2" font-size="42" text-anchor="end">40</text>
<line x1="1253.3" y1="1289.2" x2="1267.7" y2="1289.2" stroke="#000" stroke-width="3.2" stroke-linecap="butt"/>
<text x="1248" y="1304.7" font-size="42" text-anchor="end">20</text>
<line x1="1253.3" y1="1365.6" x2="1267.7" y2="1365.6" stroke="#000" stroke-width="3.2" stroke-linecap="butt"/>
<text x="1248" y="1381.1" font-size="42" text-anchor="end">0</text>
<line x1="1269" y1="1365.6" x2="1269" y2="1376" stroke="#000" stroke-width="2.6" stroke-linecap="butt"/>
<line x1="1293.99" y1="1365.6" x2="1293.99" y2="1374.8" stroke="#000" stroke-width="2.6" stroke-linecap="butt"/>
<line x1="1308.6" y1="1365.6" x2="1308.6" y2="1374.8" stroke="#000" stroke-width="2.6" stroke-linecap="butt"/>
<line x1="1318.97" y1="1365.6" x2="1318.97" y2="1374.8" stroke="#000" stroke-width="2.6" stroke-linecap="butt"/>
<line x1="1327.01" y1="1365.6" x2="1327.01" y2="1374.8" stroke="#000" stroke-width="2.6" stroke-linecap="butt"/>
<line x1="1333.59" y1="1365.6" x2="1333.59" y2="1374.8" stroke="#000" stroke-width="2.6" stroke-linecap="butt"/>
<line x1="1339.14" y1="1365.6" x2="1339.14" y2="1374.8" stroke="#000" stroke-width="2.6" stroke-linecap="butt"/>
<line x1="1343.96" y1="1365.6" x2="1343.96" y2="1374.8" stroke="#000" stroke-width="2.6" stroke-linecap="butt"/>
<line x1="1348.2" y1="1365.6" x2="1348.2" y2="1374.8" stroke="#000" stroke-width="2.6" stroke-linecap="butt"/>
<line x1="1352" y1="1365.6" x2="1352" y2="1376" stroke="#000" stroke-width="2.6" stroke-linecap="butt"/>
<line x1="1376.26" y1="1365.6" x2="1376.26" y2="1374.8" stroke="#000" stroke-width="2.6" stroke-linecap="butt"/>
<line x1="1390.46" y1="1365.6" x2="1390.46" y2="1374.8" stroke="#000" stroke-width="2.6" stroke-linecap="butt"/>
<line x1="1400.53" y1="1365.6" x2="1400.53" y2="1374.8" stroke="#000" stroke-width="2.6" stroke-linecap="butt"/>
<line x1="1408.34" y1="1365.6" x2="1408.34" y2="1374.8" stroke="#000" stroke-width="2.6" stroke-linecap="butt"/>
<line x1="1414.72" y1="1365.6" x2="1414.72" y2="1374.8" stroke="#000" stroke-width="2.6" stroke-linecap="butt"/>
<line x1="1420.11" y1="1365.6" x2="1420.11" y2="1374.8" stroke="#000" stroke-width="2.6" stroke-linecap="butt"/>
<line x1="1424.79" y1="1365.6" x2="1424.79" y2="1374.8" stroke="#000" stroke-width="2.6" stroke-linecap="butt"/>
<line x1="1428.91" y1="1365.6" x2="1428.91" y2="1374.8" stroke="#000" stroke-width="2.6" stroke-linecap="butt"/>
<line x1="1432.6" y1="1365.6" x2="1432.6" y2="1376" stroke="#000" stroke-width="2.6" stroke-linecap="butt"/>
<line x1="1457.31" y1="1365.6" x2="1457.31" y2="1374.8" stroke="#000" stroke-width="2.6" stroke-linecap="butt"/>
<line x1="1471.77" y1="1365.6" x2="1471.77" y2="1374.8" stroke="#000" stroke-width="2.6" stroke-linecap="butt"/>
<line x1="1482.03" y1="1365.6" x2="1482.03" y2="1374.8" stroke="#000" stroke-width="2.6" stroke-linecap="butt"/>
<line x1="1489.99" y1="1365.6" x2="1489.99" y2="1374.8" stroke="#000" stroke-width="2.6" stroke-linecap="butt"/>
<line x1="1496.49" y1="1365.6" x2="1496.49" y2="1374.8" stroke="#000" stroke-width="2.6" stroke-linecap="butt"/>
<line x1="1501.98" y1="1365.6" x2="1501.98" y2="1374.8" stroke="#000" stroke-width="2.6" stroke-linecap="butt"/>
<line x1="1506.74" y1="1365.6" x2="1506.74" y2="1374.8" stroke="#000" stroke-width="2.6" stroke-linecap="butt"/>
<line x1="1510.94" y1="1365.6" x2="1510.94" y2="1374.8" stroke="#000" stroke-width="2.6" stroke-linecap="butt"/>
<line x1="1514.7" y1="1365.6" x2="1514.7" y2="1376" stroke="#000" stroke-width="2.6" stroke-linecap="butt"/>
<line x1="1538.96" y1="1365.6" x2="1538.96" y2="1374.8" stroke="#000" stroke-width="2.6" stroke-linecap="butt"/>
<line x1="1553.16" y1="1365.6" x2="1553.16" y2="1374.8" stroke="#000" stroke-width="2.6" stroke-linecap="butt"/>
<line x1="1563.23" y1="1365.6" x2="1563.23" y2="1374.8" stroke="#000" stroke-width="2.6" stroke-linecap="butt"/>
<line x1="1571.04" y1="1365.6" x2="1571.04" y2="1374.8" stroke="#000" stroke-width="2.6" stroke-linecap="butt"/>
<line x1="1577.42" y1="1365.6" x2="1577.42" y2="1374.8" stroke="#000" stroke-width="2.6" stroke-linecap="butt"/>
<line x1="1582.81" y1="1365.6" x2="1582.81" y2="1374.8" stroke="#000" stroke-width="2.6" stroke-linecap="butt"/>
<line x1="1587.49" y1="1365.6" x2="1587.49" y2="1374.8" stroke="#000" stroke-width="2.6" stroke-linecap="butt"/>
<line x1="1591.61" y1="1365.6" x2="1591.61" y2="1374.8" stroke="#000" stroke-width="2.6" stroke-linecap="butt"/>
<line x1="1595.3" y1="1365.6" x2="1595.3" y2="1376" stroke="#000" stroke-width="2.6" stroke-linecap="butt"/>
<line x1="1619.77" y1="1365.6" x2="1619.77" y2="1374.8" stroke="#000" stroke-width="2.6" stroke-linecap="butt"/>
<line x1="1634.09" y1="1365.6" x2="1634.09" y2="1374.8" stroke="#000" stroke-width="2.6" stroke-linecap="butt"/>
<line x1="1644.25" y1="1365.6" x2="1644.25" y2="1374.8" stroke="#000" stroke-width="2.6" stroke-linecap="butt"/>
<line x1="1652.13" y1="1365.6" x2="1652.13" y2="1374.8" stroke="#000" stroke-width="2.6" stroke-linecap="butt"/>
<line x1="1658.56" y1="1365.6" x2="1658.56" y2="1374.8" stroke="#000" stroke-width="2.6" stroke-linecap="butt"/>
<line x1="1664.01" y1="1365.6" x2="1664.01" y2="1374.8" stroke="#000" stroke-width="2.6" stroke-linecap="butt"/>
<line x1="1668.72" y1="1365.6" x2="1668.72" y2="1374.8" stroke="#000" stroke-width="2.6" stroke-linecap="butt"/>
<line x1="1672.88" y1="1365.6" x2="1672.88" y2="1374.8" stroke="#000" stroke-width="2.6" stroke-linecap="butt"/>
<line x1="1676.6" y1="1365.6" x2="1676.6" y2="1376" stroke="#000" stroke-width="2.6" stroke-linecap="butt"/>
<text x="1352" y="1417" font-size="42" text-anchor="middle">10<tspan dy="-12.5" font-size="30">1</tspan></text>
<text x="1432.6" y="1417" font-size="42" text-anchor="middle">10<tspan dy="-12.5" font-size="30">2</tspan></text>
<text x="1514.7" y="1417" font-size="42" text-anchor="middle">10<tspan dy="-12.5" font-size="30">3</tspan></text>
<text x="1595.3" y="1417" font-size="42" text-anchor="middle">10<tspan dy="-12.5" font-size="30">4</tspan></text>
<text x="1676.6" y="1417" font-size="42" text-anchor="middle">10<tspan dy="-12.5" font-size="30">5</tspan></text>
<line x1="1166.4" y1="1203" x2="1166.4" y2="1371.4" stroke="#000" stroke-width="3.2" stroke-linecap="butt"/>
<polygon points="1166.4,1179.6 1153.4,1205 1179.4,1205" fill="#000"/>
<text x="1146" y="1347" font-size="44" transform="rotate(-90 1146 1347)">Count</text>
<line x1="1263" y1="1436" x2="1431" y2="1436" stroke="#000" stroke-width="3.2" stroke-linecap="butt"/>
<polygon points="1455,1436 1429,1423.5 1429,1448.5" fill="#000"/>
<text x="1265.7" y="1495.2" font-size="44">IFN-<tspan font-family="&apos;DejaVu Serif&apos;, &apos;Liberation Serif&apos;, serif" font-size="37.5">&#947;</tspan>-FITC</text>
<line x1="1269.4" y1="968.4" x2="1699.1" y2="968.4" stroke="#555" stroke-width="1.2" stroke-linecap="butt"/>
<line x1="1866.4" y1="998.8" x2="1866.4" y2="1366.4" stroke="#000" stroke-width="3.2" stroke-linecap="butt"/>
<line x1="1852" y1="998.8" x2="1866.4" y2="998.8" stroke="#000" stroke-width="3.2" stroke-linecap="butt"/>
<text x="1842" y="1014.3" font-size="42" text-anchor="end">3</text>
<line x1="1852" y1="1122" x2="1866.4" y2="1122" stroke="#000" stroke-width="3.2" stroke-linecap="butt"/>
<text x="1842" y="1137.5" font-size="42" text-anchor="end">2</text>
<line x1="1852" y1="1243.4" x2="1866.4" y2="1243.4" stroke="#000" stroke-width="3.2" stroke-linecap="butt"/>
<text x="1842" y="1258.9" font-size="42" text-anchor="end">1</text>
<line x1="1852" y1="1364.8" x2="1866.4" y2="1364.8" stroke="#000" stroke-width="3.2" stroke-linecap="butt"/>
<text x="1842" y="1380.3" font-size="42" text-anchor="end">0</text>
<line x1="1852" y1="1364.8" x2="2091.1" y2="1364.8" stroke="#000" stroke-width="3.2" stroke-linecap="butt"/>
<line x1="1866.4" y1="1364.8" x2="1866.4" y2="1379" stroke="#000" stroke-width="3.2" stroke-linecap="butt"/>
<line x1="1940.7" y1="1364.8" x2="1940.7" y2="1379" stroke="#000" stroke-width="3.2" stroke-linecap="butt"/>
<line x1="2015" y1="1364.8" x2="2015" y2="1379" stroke="#000" stroke-width="3.2" stroke-linecap="butt"/>
<line x1="2089.5" y1="1364.8" x2="2089.5" y2="1379" stroke="#000" stroke-width="3.2" stroke-linecap="butt"/>
<rect x="1882.6" y="1307.7" width="42.7" height="57" fill="#FCBE84" stroke="#000" stroke-width="3.4"/>
<line x1="1903.95" y1="1301.8" x2="1903.95" y2="1306" stroke="#000" stroke-width="3.2" stroke-linecap="butt"/>
<line x1="1891.95" y1="1301.8" x2="1915.95" y2="1301.8" stroke="#000" stroke-width="3.2" stroke-linecap="butt"/>
<circle cx="1902.8" cy="1292" r="7.6" fill="#000"/>
<circle cx="1892.6" cy="1317.4" r="7.6" fill="#000"/>
<circle cx="1914.5" cy="1315.5" r="7.6" fill="#000"/>
<rect x="1956.7" y="1099.7" width="42.2" height="265" fill="#02FAFA" stroke="#000" stroke-width="3.4"/>
<line x1="1977.8" y1="1091.6" x2="1977.8" y2="1098" stroke="#000" stroke-width="3.2" stroke-linecap="butt"/>
<line x1="1965.8" y1="1091.6" x2="1989.8" y2="1091.6" stroke="#000" stroke-width="3.2" stroke-linecap="butt"/>
<circle cx="1966" cy="1091.6" r="7.6" fill="#000"/>
<circle cx="1987" cy="1088.8" r="7.6" fill="#000"/>
<circle cx="1978" cy="1117" r="7.6" fill="#000"/>
<rect x="2031.3" y="1053" width="42" height="311.7" fill="#8C8CFA" stroke="#000" stroke-width="3.4"/>
<line x1="2052.3" y1="1032.9" x2="2052.3" y2="1051.3" stroke="#000" stroke-width="3.2" stroke-linecap="butt"/>
<line x1="2040.3" y1="1032.9" x2="2064.3" y2="1032.9" stroke="#000" stroke-width="3.2" stroke-linecap="butt"/>
<circle cx="2062" cy="1034" r="7.6" fill="#000"/>
<circle cx="2041.7" cy="1049.7" r="7.6" fill="#000"/>
<circle cx="2052" cy="1077" r="7.6" fill="#000"/>
<polyline points="1903.6,1250 1903.6,1047.7 1978,1047.7 1978,1061.4" fill="none" stroke="#000" stroke-width="3.2" stroke-linejoin="round" stroke-linecap="butt"/>
<text x="1943.1" y="1036.8" font-size="35.2" text-anchor="middle">p&lt;0.001</text>
<polyline points="1903.6,1003.5 1903.6,974.2 2052.3,974.2 2052.3,1006.7" fill="none" stroke="#000" stroke-width="3.2" stroke-linejoin="round" stroke-linecap="butt"/>
<text x="1979" y="958.5" font-size="35.2" text-anchor="middle">p&lt;0.001</text>
<text x="1792.6" y="1320.6" font-size="44" transform="rotate(-90 1792.6 1320.6)">IFN-<tspan font-family="&apos;DejaVu Serif&apos;, &apos;Liberation Serif&apos;, serif" font-size="37.5">&#947;</tspan> MFI (AU)</text>
<polyline points="64.6,1503.5 64.6,1518.4 2092.5,1518.4 2092.5,1503.5" fill="none" stroke="#000" stroke-width="3.3" stroke-linejoin="round" stroke-linecap="round"/>
<text x="1039" y="1579.8" font-size="44.2" text-anchor="middle">OT-I splenocytes after co-culture</text>
<text transform="translate(17 1712.5) scale(1.09 1)" x="0" y="0" font-size="78" font-weight="bold">e</text>
<rect x="182.5" y="1729.7" width="36.8" height="36.1" fill="#FCBE84" stroke="#000" stroke-width="3.4"/>
<text x="231.6" y="1764.4" font-size="44">shCtrl</text>
<rect x="414.7" y="1729.7" width="36.6" height="36.1" fill="#02FAFA" stroke="#000" stroke-width="3.4"/>
<text x="460.5" y="1764.4" font-size="44">shSND1-1</text>
<rect x="708.7" y="1729.7" width="36.9" height="36.1" fill="#8C8CFA" stroke="#000" stroke-width="3.4"/>
<text x="757.4" y="1764.4" font-size="44">shSND1-2</text>
<line x1="180.5" y1="1874.1" x2="180.5" y2="2382.9" stroke="#000" stroke-width="3.2" stroke-linecap="butt"/>
<line x1="166.6" y1="1874.1" x2="180.5" y2="1874.1" stroke="#000" stroke-width="3.2" stroke-linecap="butt"/>
<text x="157.6" y="1890.1" font-size="44.5" text-anchor="end">8</text>
<line x1="166.6" y1="2001.4" x2="180.5" y2="2001.4" stroke="#000" stroke-width="3.2" stroke-linecap="butt"/>
<text x="157.6" y="2017.4" font-size="44.5" text-anchor="end">6</text>
<line x1="166.6" y1="2128.4" x2="180.5" y2="2128.4" stroke="#000" stroke-width="3.2" stroke-linecap="butt"/>
<text x="157.6" y="2144.4" font-size="44.5" text-anchor="end">4</text>
<line x1="166.6" y1="2255.6" x2="180.5" y2="2255.6" stroke="#000" stroke-width="3.2" stroke-linecap="butt"/>
<text x="157.6" y="2271.6" font-size="44.5" text-anchor="end">2</text>
<line x1="166.6" y1="2381.3" x2="180.5" y2="2381.3" stroke="#000" stroke-width="3.2" stroke-linecap="butt"/>
<text x="157.6" y="2397.3" font-size="44.5" text-anchor="end">0</text>
<line x1="166.6" y1="2381.3" x2="446.3" y2="2381.3" stroke="#000" stroke-width="3.2" stroke-linecap="butt"/>
<line x1="180.5" y1="2381.3" x2="180.5" y2="2394.5" stroke="#000" stroke-width="3.2" stroke-linecap="butt"/>
<line x1="269.7" y1="2381.3" x2="269.7" y2="2394.5" stroke="#000" stroke-width="3.2" stroke-linecap="butt"/>
<line x1="355.7" y1="2381.3" x2="355.7" y2="2394.5" stroke="#000" stroke-width="3.2" stroke-linecap="butt"/>
<line x1="444.7" y1="2381.3" x2="444.7" y2="2394.5" stroke="#000" stroke-width="3.2" stroke-linecap="butt"/>
<rect x="202.1" y="2317.9" width="51.8" height="63.3" fill="#FCBE84" stroke="#000" stroke-width="3.4"/>
<circle cx="216.4" cy="2318.6" r="8" fill="#000"/>
<circle cx="227" cy="2313" r="8" fill="#000"/>
<circle cx="237.6" cy="2318.6" r="8" fill="#000"/>
<rect x="288.2" y="2089" width="51" height="292.2" fill="#02FAFA" stroke="#000" stroke-width="3.4"/>
<line x1="313.7" y1="2064.6" x2="313.7" y2="2087.3" stroke="#000" stroke-width="3.2" stroke-linecap="butt"/>
<line x1="299.7" y1="2064.6" x2="327.7" y2="2064.6" stroke="#000" stroke-width="3.2" stroke-linecap="butt"/>
<circle cx="313" cy="2049.3" r="8" fill="#000"/>
<circle cx="314.3" cy="2106" r="8" fill="#000"/>
<circle cx="314.3" cy="2136.2" r="8" fill="#000"/>
<rect x="377.5" y="2000.9" width="51.4" height="380.3" fill="#8C8CFA" stroke="#000" stroke-width="3.4"/>
<circle cx="391.4" cy="1999.2" r="8" fill="#000"/>
<circle cx="403" cy="1996.5" r="8" fill="#000"/>
<circle cx="414" cy="1999.2" r="8" fill="#000"/>
<polyline points="225.8,2285 225.8,2008.2 312,2008.2 312,2027.8" fill="none" stroke="#000" stroke-width="3.2" stroke-linejoin="round" stroke-linecap="butt"/>
<text x="272" y="1995.3" font-size="35.2" text-anchor="middle">p&lt;0.001</text>
<polyline points="225.8,1962 225.8,1916.2 399.2,1916.2 399.2,1937.4" fill="none" stroke="#000" stroke-width="3.2" stroke-linejoin="round" stroke-linecap="butt"/>
<text x="315" y="1899.4" font-size="35.2" text-anchor="middle">p&lt;0.001</text>
<text x="51.4" y="2295" font-size="44.3" transform="rotate(-90 51.4 2295)">Normalized IFN-<tspan font-family="&apos;DejaVu Serif&apos;, &apos;Liberation Serif&apos;, serif" font-size="37.5">&#947;</tspan></text>
<text x="105.6" y="2244.5" font-size="42.2" transform="rotate(-90 105.6 2244.5)">concentration</text>
<line x1="712.8" y1="1885" x2="712.8" y2="2383.1" stroke="#000" stroke-width="3.2" stroke-linecap="butt"/>
<line x1="699.4" y1="1885" x2="712.8" y2="1885" stroke="#000" stroke-width="3.2" stroke-linecap="butt"/>
<text x="690.4" y="1901" font-size="44.5" text-anchor="end">2.5</text>
<line x1="699.4" y1="1987.2" x2="712.8" y2="1987.2" stroke="#000" stroke-width="3.2" stroke-linecap="butt"/>
<text x="690.4" y="2003.2" font-size="44.5" text-anchor="end">2.0</text>
<line x1="699.4" y1="2085.5" x2="712.8" y2="2085.5" stroke="#000" stroke-width="3.2" stroke-linecap="butt"/>
<text x="690.4" y="2101.5" font-size="44.5" text-anchor="end">1.5</text>
<line x1="699.4" y1="2185" x2="712.8" y2="2185" stroke="#000" stroke-width="3.2" stroke-linecap="butt"/>
<text x="690.4" y="2201" font-size="44.5" text-anchor="end">1.0</text>
<line x1="699.4" y1="2284.6" x2="712.8" y2="2284.6" stroke="#000" stroke-width="3.2" stroke-linecap="butt"/>
<text x="690.4" y="2300.6" font-size="44.5" text-anchor="end">0.5</text>
<line x1="699.4" y1="2381.5" x2="712.8" y2="2381.5" stroke="#000" stroke-width="3.2" stroke-linecap="butt"/>
<text x="690.4" y="2397.5" font-size="44.5" text-anchor="end">0</text>
<line x1="699.4" y1="2381.5" x2="977.6" y2="2381.5" stroke="#000" stroke-width="3.2" stroke-linecap="butt"/>
<line x1="712.8" y1="2381.5" x2="712.8" y2="2394.5" stroke="#000" stroke-width="3.2" stroke-linecap="butt"/>
<line x1="802.8" y1="2381.5" x2="802.8" y2="2394.5" stroke="#000" stroke-width="3.2" stroke-linecap="butt"/>
<line x1="889" y1="2381.5" x2="889" y2="2394.5" stroke="#000" stroke-width="3.2" stroke-linecap="butt"/>
<line x1="976" y1="2381.5" x2="976" y2="2394.5" stroke="#000" stroke-width="3.2" stroke-linecap="butt"/>
<rect x="735.7" y="2179.7" width="50.3" height="201.7" fill="#FCBE84" stroke="#000" stroke-width="3.4"/>
<line x1="760.85" y1="2153.8" x2="760.85" y2="2178" stroke="#000" stroke-width="3.2" stroke-linecap="butt"/>
<line x1="746.1" y1="2153.8" x2="775.6" y2="2153.8" stroke="#000" stroke-width="3.2" stroke-linecap="butt"/>
<circle cx="745.4" cy="2149" r="8" fill="#000"/>
<circle cx="770.8" cy="2147.2" r="8" fill="#000"/>
<circle cx="758.7" cy="2186" r="8" fill="#000"/>
<circle cx="758.7" cy="2252.8" r="8" fill="#000"/>
<rect x="821.8" y="2036.9" width="49.1" height="344.5" fill="#02FAFA" stroke="#000" stroke-width="3.4"/>
<line x1="846.35" y1="2011" x2="846.35" y2="2035.2" stroke="#000" stroke-width="3.2" stroke-linecap="butt"/>
<line x1="832.55" y1="2011" x2="860.15" y2="2011" stroke="#000" stroke-width="3.2" stroke-linecap="butt"/>
<circle cx="844.8" cy="1988.3" r="8" fill="#000"/>
<circle cx="844.8" cy="2052.8" r="8" fill="#000"/>
<circle cx="853.8" cy="2069.7" r="8" fill="#000"/>
<circle cx="837" cy="2080.6" r="8" fill="#000"/>
<rect x="909.1" y="1922.7" width="49.9" height="458.7" fill="#8C8CFA" stroke="#000" stroke-width="3.4"/>
<circle cx="920.3" cy="1924.9" r="8" fill="#000"/>
<circle cx="930" cy="1915" r="8" fill="#000"/>
<circle cx="938.7" cy="1911" r="8" fill="#000"/>
<circle cx="945.7" cy="1924.9" r="8" fill="#000"/>
<polyline points="759,2106.8 759,1941.3 844.8,1941.3 844.8,1960" fill="none" stroke="#000" stroke-width="3.2" stroke-linejoin="round" stroke-linecap="butt"/>
<text x="806.8" y="1930.7" font-size="35.2" text-anchor="middle">p=0.0012</text>
<polyline points="759,1894.3 759,1869.3 932.8,1869.3 932.8,1878.7" fill="none" stroke="#000" stroke-width="3.2" stroke-linejoin="round" stroke-linecap="butt"/>
<text x="849.9" y="1854.4" font-size="35.2" text-anchor="middle">p&lt;0.001</text>
<text x="548.5" y="2231.5" font-size="44" transform="rotate(-90 548.5 2231.5)">Cytotoxicity</text>
<text x="602.5" y="2274" font-size="44" transform="rotate(-90 602.5 2274)">(arbitrary units)</text>
<text transform="translate(1120.5 1711.5) scale(1.13 1)" x="0" y="0" font-size="78" font-weight="bold">f</text>
<defs>
<radialGradient id="gY" cx="40%" cy="35%" r="65%"><stop offset="0" stop-color="#FFF45A"/><stop offset="0.45" stop-color="#E6D628"/><stop offset="0.8" stop-color="#A89612"/><stop offset="1" stop-color="#5E5008"/></radialGradient>
<radialGradient id="gY2" cx="40%" cy="35%" r="65%"><stop offset="0" stop-color="#F2EC70"/><stop offset="0.45" stop-color="#CFC236"/><stop offset="0.8" stop-color="#968A1C"/><stop offset="1" stop-color="#504608"/></radialGradient>
<radialGradient id="gO" cx="45%" cy="40%" r="65%"><stop offset="0" stop-color="#A08C48"/><stop offset="0.6" stop-color="#7C6C2C"/><stop offset="1" stop-color="#3E3410"/></radialGradient>
<radialGradient id="gBase" cx="50%" cy="50%" r="55%"><stop offset="0" stop-color="#7A6A1A"/><stop offset="0.8" stop-color="#5A4C10"/><stop offset="1" stop-color="#2A2408"/></radialGradient>
<radialGradient id="gBg" cx="45%" cy="60%" r="75%"><stop offset="0" stop-color="#0A105A"/><stop offset="0.6" stop-color="#080D4A"/><stop offset="1" stop-color="#05083A"/></radialGradient>
<linearGradient id="gBg1" x1="0" y1="0" x2="0" y2="1"><stop offset="0" stop-color="#020206"/><stop offset="0.75" stop-color="#03040C"/><stop offset="1" stop-color="#05071C"/></linearGradient>
</defs>
<rect x="1110.8" y="1787.6" width="155.7" height="114.1" fill="url(#gBg1)"/>
<rect x="1110.8" y="1908.4" width="155.7" height="113.1" fill="url(#gBg)"/>
<rect x="1110.8" y="2029.2" width="155.7" height="113.7" fill="url(#gBg)"/>
<rect x="1110.8" y="2150.8" width="155.7" height="114.4" fill="url(#gBg)"/>
<rect x="1110.8" y="2272.2" width="155.7" height="113.6" fill="url(#gBg)"/>
<path d="M1141,1818 C1150,1806 1175,1805 1195,1810 C1215,1812 1236,1820 1245,1834 C1250,1846 1244,1862 1226,1867 C1208,1872 1190,1871 1176,1869 C1166,1877 1150,1879 1141,1871 C1133,1866 1132,1856 1139,1849 C1135,1838 1136,1826 1141,1818 Z" fill="url(#gBase)"/>
<ellipse cx="1149" cy="1822" rx="7" ry="6.44" fill="url(#gY)"/>
<ellipse cx="1160" cy="1817" rx="7.5" ry="6.9" fill="url(#gY)"/>
<ellipse cx="1173" cy="1818" rx="6" ry="5.52" fill="url(#gY)"/>
<ellipse cx="1186" cy="1815" rx="6.5" ry="5.98" fill="url(#gY)"/>
<ellipse cx="1197" cy="1820" rx="7.5" ry="6.9" fill="url(#gY)"/>
<ellipse cx="1209" cy="1824" rx="6" ry="5.52" fill="url(#gY)"/>
<ellipse cx="1220" cy="1829" rx="6.5" ry="5.98" fill="url(#gY)"/>
<ellipse cx="1232" cy="1834" rx="6.5" ry="5.98" fill="url(#gY)"/>
<ellipse cx="1240" cy="1845" rx="7" ry="6.44" fill="url(#gY)"/>
<ellipse cx="1150" cy="1836" rx="7" ry="6.44" fill="url(#gY)"/>
<ellipse cx="1163" cy="1835" rx="8.5" ry="7.82" fill="url(#gY)"/>
<ellipse cx="1181" cy="1834" rx="9" ry="8.28" fill="url(#gY)"/>
<ellipse cx="1198" cy="1836" rx="6.5" ry="5.98" fill="url(#gY)"/>
<ellipse cx="1209" cy="1839" rx="6.5" ry="5.98" fill="url(#gY)"/>
<ellipse cx="1222" cy="1841" rx="6.5" ry="5.98" fill="url(#gY)"/>
<ellipse cx="1232" cy="1852" rx="6.5" ry="5.98" fill="url(#gY)"/>
<ellipse cx="1175" cy="1850" rx="6.5" ry="5.98" fill="url(#gY)"/>
<ellipse cx="1189" cy="1850" rx="6" ry="5.52" fill="url(#gY)"/>
<ellipse cx="1200" cy="1857" rx="7" ry="6.44" fill="url(#gY)"/>
<ellipse cx="1216" cy="1859" rx="9" ry="8.28" fill="url(#gY)"/>
<ellipse cx="1230" cy="1861" rx="5.5" ry="5.06" fill="url(#gY)"/>
<ellipse cx="1140" cy="1863" rx="5.5" ry="5.06" fill="url(#gY)"/>
<ellipse cx="1150" cy="1853" rx="6.5" ry="5.85" fill="url(#gO)"/>
<ellipse cx="1163" cy="1857" rx="7" ry="6.3" fill="url(#gO)"/>
<ellipse cx="1156" cy="1868" rx="6" ry="5.4" fill="url(#gO)"/>
<path d="M1145,2068 C1150,2057 1168,2053 1185,2055 C1198,2056 1205,2063 1210,2071 C1218,2066 1232,2067 1237,2078 C1241,2090 1236,2100 1226,2102 C1216,2106 1208,2108 1200,2106 C1192,2116 1178,2121 1166,2119 C1155,2115 1150,2105 1147,2097 C1141,2088 1139,2076 1145,2068 Z" fill="url(#gBase)"/>
<ellipse cx="1152" cy="2067" rx="6.5" ry="5.98" fill="url(#gY2)"/>
<ellipse cx="1164" cy="2061" rx="7" ry="6.44" fill="url(#gY2)"/>
<ellipse cx="1176" cy="2060" rx="6.5" ry="5.98" fill="url(#gY2)"/>
<ellipse cx="1189" cy="2061" rx="6.5" ry="5.98" fill="url(#gY2)"/>
<ellipse cx="1200" cy="2066" rx="6" ry="5.52" fill="url(#gY2)"/>
<ellipse cx="1148" cy="2080" rx="6" ry="5.52" fill="url(#gY2)"/>
<ellipse cx="1160" cy="2078" rx="6.5" ry="5.98" fill="url(#gY2)"/>
<ellipse cx="1172" cy="2078" rx="6.5" ry="5.98" fill="url(#gY2)"/>
<ellipse cx="1185" cy="2076" rx="6.5" ry="5.98" fill="url(#gY2)"/>
<ellipse cx="1197" cy="2078" rx="6" ry="5.52" fill="url(#gY2)"/>
<ellipse cx="1209" cy="2081" rx="6" ry="5.52" fill="url(#gY2)"/>
<ellipse cx="1222" cy="2076" rx="7" ry="6.44" fill="url(#gY2)"/>
<ellipse cx="1233" cy="2084" rx="5.5" ry="5.06" fill="url(#gY2)"/>
<ellipse cx="1153" cy="2093" rx="7" ry="6.44" fill="url(#gY2)"/>
<ellipse cx="1167" cy="2093" rx="7.5" ry="6.9" fill="url(#gY2)"/>
<ellipse cx="1181" cy="2091" rx="7" ry="6.44" fill="url(#gY2)"/>
<ellipse cx="1195" cy="2093" rx="7" ry="6.44" fill="url(#gY2)"/>
<ellipse cx="1208" cy="2097" rx="6" ry="5.52" fill="url(#gY2)"/>
<ellipse cx="1224" cy="2094" rx="7.5" ry="6.9" fill="url(#gY2)"/>
<ellipse cx="1162" cy="2106" rx="6.5" ry="5.98" fill="url(#gY2)"/>
<ellipse cx="1176" cy="2108" rx="7.5" ry="6.9" fill="url(#gY2)"/>
<ellipse cx="1190" cy="2106" rx="7" ry="6.44" fill="url(#gY2)"/>
<ellipse cx="1178" cy="2117" rx="4.5" ry="4.14" fill="url(#gY2)"/>
<ellipse cx="1175" cy="1965" rx="14" ry="22.5" fill="url(#gO)" transform="rotate(4 1175 1965)"/>
<ellipse cx="1198" cy="1965" rx="14" ry="22.5" fill="url(#gO)" transform="rotate(-4 1198 1965)"/>
<ellipse cx="1186.5" cy="1958" rx="5" ry="13" fill="url(#gY2)"/>
<ellipse cx="1186.5" cy="1972" rx="4" ry="6" fill="url(#gY2)"/>
<path d="M1163,2196 C1166,2186 1178,2184 1186,2188 C1196,2184 1210,2186 1213,2196 C1216,2210 1216,2225 1212,2232 C1200,2234 1192,2232 1186,2230 C1178,2236 1166,2236 1161,2230 C1158,2218 1160,2205 1163,2196 Z" fill="url(#gO)"/>
<path d="M1187,2190 C1190,2205 1194,2218 1205,2228" stroke="#4A3C10" stroke-width="1.5" fill="none"/>
<ellipse cx="1173.5" cy="2331" rx="12.5" ry="21" fill="url(#gO)" transform="rotate(-18 1173.5 2331)"/>
<ellipse cx="1205" cy="2332.5" rx="18" ry="23" fill="url(#gO)"/>
<path d="M1188,2330 C1196,2328 1212,2326 1222,2330" stroke="#4A3C10" stroke-width="1.5" fill="none"/>
<rect x="1228.1" y="2368.7" width="23.9" height="4.5" fill="#fff"/>
<text x="1396" y="1847.4" font-size="44" text-anchor="middle">shControl</text>
<text x="1393.5" y="1971" font-size="44" text-anchor="middle">shMTDH</text>
<text x="1393.5" y="2066.5" font-size="44" text-anchor="middle">shMTDH</text>
<text x="1394" y="2118.6" font-size="44" text-anchor="middle">+ WT</text>
<text x="1393.5" y="2191" font-size="44" text-anchor="middle">shMTDH</text>
<text x="1395.5" y="2241.9" font-size="44" text-anchor="middle">+ W391D</text>
<text x="1393.5" y="2314.3" font-size="44" text-anchor="middle">shMTDH</text>
<text x="1395.5" y="2367.1" font-size="44" text-anchor="middle">+ W398D</text>
<text x="1504" y="1692" font-size="44">Number of&#160; lung nodules</text>
<text x="1522.5" y="1750.7" font-size="42" text-anchor="middle">0</text>
<text x="1644.8" y="1750.7" font-size="42" text-anchor="middle">20</text>
<text x="1768.7" y="1750.7" font-size="42" text-anchor="middle">40</text>
<text x="1892.9" y="1750.7" font-size="42" text-anchor="middle">60</text>
<line x1="1507.4" y1="1777" x2="1895.5" y2="1777" stroke="#000" stroke-width="3.3" stroke-linecap="butt"/>
<line x1="1521.9" y1="1778" x2="1521.9" y2="1762.4" stroke="#000" stroke-width="3.3" stroke-linecap="butt"/>
<line x1="1645.6" y1="1778" x2="1645.6" y2="1762.4" stroke="#000" stroke-width="3.3" stroke-linecap="butt"/>
<line x1="1768.8" y1="1778" x2="1768.8" y2="1762.4" stroke="#000" stroke-width="3.3" stroke-linecap="butt"/>
<line x1="1893.7" y1="1778" x2="1893.7" y2="1762.4" stroke="#000" stroke-width="3.3" stroke-linecap="butt"/>
<line x1="1522" y1="1775.5" x2="1522" y2="2387.5" stroke="#000" stroke-width="3.4" stroke-linecap="butt"/>
<line x1="1508.2" y1="1890.4" x2="1522" y2="1890.4" stroke="#000" stroke-width="3.3" stroke-linecap="butt"/>
<line x1="1508.2" y1="2018" x2="1522" y2="2018" stroke="#000" stroke-width="3.3" stroke-linecap="butt"/>
<line x1="1508.2" y1="2139" x2="1522" y2="2139" stroke="#000" stroke-width="3.3" stroke-linecap="butt"/>
<line x1="1508.2" y1="2264.2" x2="1522" y2="2264.2" stroke="#000" stroke-width="3.3" stroke-linecap="butt"/>
<line x1="1508.2" y1="2385.9" x2="1522" y2="2385.9" stroke="#000" stroke-width="3.3" stroke-linecap="butt"/>
<circle cx="1553.2" cy="1816.1" r="7.8" fill="#F7925A"/>
<circle cx="1541" cy="1836.5" r="7.8" fill="#F7925A"/>
<circle cx="1553.2" cy="1856" r="7.8" fill="#F7925A"/>
<circle cx="1632.9" cy="1836.5" r="7.8" fill="#F7925A"/>
<circle cx="1725.5" cy="1836.5" r="7.8" fill="#F7925A"/>
<circle cx="1830.7" cy="1836.5" r="7.8" fill="#F7925A"/>
<line x1="1639.1" y1="1805.5" x2="1639.1" y2="1868.6" stroke="#000" stroke-width="3.3" stroke-linecap="butt"/>
<line x1="1590.4" y1="1836.5" x2="1686.7" y2="1836.5" stroke="#000" stroke-width="3.3" stroke-linecap="butt"/>
<line x1="1590.4" y1="1821" x2="1590.4" y2="1853.1" stroke="#000" stroke-width="3.3" stroke-linecap="butt"/>
<line x1="1686.7" y1="1821" x2="1686.7" y2="1853.1" stroke="#000" stroke-width="3.3" stroke-linecap="butt"/>
<rect x="1514.7" y="1941" width="15.2" height="15.2" fill="#14A0A2"/>
<rect x="1521.4" y="1930.6" width="15.2" height="15.2" fill="#14A0A2"/>
<rect x="1527.4" y="1936.5" width="15.2" height="15.2" fill="#14A0A2"/>
<rect x="1527.4" y="1956.5" width="15.2" height="15.2" fill="#14A0A2"/>
<rect x="1521.4" y="1962.2" width="15.2" height="15.2" fill="#14A0A2"/>
<rect x="1521.4" y="1946.4" width="15.2" height="15.2" fill="#14A0A2"/>
<line x1="1522" y1="1930" x2="1522" y2="1980" stroke="#000" stroke-width="3.4" stroke-linecap="butt"/>
<line x1="1529" y1="1921.6" x2="1529" y2="1986.4" stroke="#000" stroke-width="3.2" stroke-linecap="round"/>
<rect x="1525.5" y="1937.7" width="6.3" height="33.7" fill="#000"/>
<polygon points="1527.7,2054.9 1519.4,2069.9 1536,2069.9" fill="#0A0AE0"/>
<polygon points="1533.7,2074.8 1525.4,2089.8 1542,2089.8" fill="#0A0AE0"/>
<polygon points="1570.4,2066.4 1562.1,2081.4 1578.7,2081.4" fill="#0A0AE0"/>
<polygon points="1706,2066.4 1697.7,2081.4 1714.3,2081.4" fill="#0A0AE0"/>
<polygon points="1823.4,2066.4 1815.1,2081.4 1831.7,2081.4" fill="#0A0AE0"/>
<polygon points="1872.8,2066.4 1864.5,2081.4 1881.1,2081.4" fill="#0A0AE0"/>
<line x1="1672.8" y1="2042.8" x2="1672.8" y2="2106.4" stroke="#000" stroke-width="3.3" stroke-linecap="butt"/>
<line x1="1610" y1="2074.3" x2="1734.8" y2="2074.3" stroke="#000" stroke-width="3.3" stroke-linecap="butt"/>
<line x1="1610" y1="2057.7" x2="1610" y2="2090.9" stroke="#000" stroke-width="3.3" stroke-linecap="butt"/>
<line x1="1734.8" y1="2057.7" x2="1734.8" y2="2090.9" stroke="#000" stroke-width="3.3" stroke-linecap="butt"/>
<polygon points="1522.4,2184.8 1530.2,2192.6 1522.4,2200.4 1514.6,2192.6" fill="#12D012"/>
<polygon points="1541,2169.3 1548.8,2177.1 1541,2184.9 1533.2,2177.1" fill="#12D012"/>
<polygon points="1553.4,2183.2 1561.2,2191 1553.4,2198.8 1545.6,2191" fill="#12D012"/>
<polygon points="1534.3,2200.3 1542.1,2208.1 1534.3,2215.9 1526.5,2208.1" fill="#12D012"/>
<polygon points="1547.6,2203.7 1555.4,2211.5 1547.6,2219.3 1539.8,2211.5" fill="#12D012"/>
<polygon points="1541,2217 1548.8,2224.8 1541,2232.6 1533.2,2224.8" fill="#12D012"/>
<line x1="1522" y1="2180" x2="1522" y2="2205" stroke="#000" stroke-width="3.4" stroke-linecap="butt"/>
<line x1="1539.2" y1="2169.4" x2="1539.2" y2="2233" stroke="#000" stroke-width="3.2" stroke-linecap="round"/>
<line x1="1534.6" y1="2184.6" x2="1534.6" y2="2217.3" stroke="#000" stroke-width="3" stroke-linecap="round"/>
<line x1="1543.5" y1="2184.6" x2="1543.5" y2="2217.3" stroke="#000" stroke-width="3" stroke-linecap="round"/>
<line x1="1534.6" y1="2200.4" x2="1543.5" y2="2200.4" stroke="#000" stroke-width="1.5" stroke-linecap="butt"/>
<polygon points="1534,2296.8 1541.1,2300.9 1541.1,2309.1 1534,2313.2 1526.9,2309.1 1526.9,2300.9" fill="#5297F2"/>
<polygon points="1534,2309.8 1541.1,2313.9 1541.1,2322.1 1534,2326.2 1526.9,2322.1 1526.9,2313.9" fill="#5297F2"/>
<polygon points="1518.3,2317.8 1525.4,2321.9 1525.4,2330.1 1518.3,2334.2 1511.2,2330.1 1511.2,2321.9" fill="#5297F2"/>
<polygon points="1518.3,2328.8 1525.4,2332.9 1525.4,2341.1 1518.3,2345.2 1511.2,2341.1 1511.2,2332.9" fill="#5297F2"/>
<polygon points="1534,2327.8 1541.1,2331.9 1541.1,2340.1 1534,2344.2 1526.9,2340.1 1526.9,2331.9" fill="#5297F2"/>
<polygon points="1534,2340.3 1541.1,2344.4 1541.1,2352.6 1534,2356.7 1526.9,2352.6 1526.9,2344.4" fill="#5297F2"/>
<polygon points="1565.1,2318.6 1572.2,2322.7 1572.2,2330.9 1565.1,2335 1558,2330.9 1558,2322.7" fill="#5297F2"/>
<line x1="1522" y1="2315" x2="1522" y2="2350" stroke="#000" stroke-width="3.4" stroke-linecap="butt"/>
<line x1="1534" y1="2295" x2="1534" y2="2359.2" stroke="#000" stroke-width="3.2" stroke-linecap="round"/>
<line x1="1527.1" y1="2310.5" x2="1527.1" y2="2343.7" stroke="#000" stroke-width="3.2" stroke-linecap="butt"/>
<line x1="1541" y1="2310.5" x2="1541" y2="2343.7" stroke="#000" stroke-width="3.2" stroke-linecap="butt"/>
<line x1="1527.1" y1="2326.8" x2="1541" y2="2326.8" stroke="#000" stroke-width="2.6" stroke-linecap="butt"/>
<line x1="1576.1" y1="1951.5" x2="1904.4" y2="1951.5" stroke="#000" stroke-width="3.3" stroke-linecap="butt"/>
<polyline points="1891.2,2072.7 1904.4,2072.7 1904.4,1951.5 1890,1951.5" fill="none" stroke="#000" stroke-width="3.3" stroke-linejoin="miter" stroke-linecap="butt"/>
<polyline points="1632.6,2199.6 1964.5,2199.6 1964.5,1951.3 1944.7,1951.3" fill="none" stroke="#000" stroke-width="3.3" stroke-linejoin="miter" stroke-linecap="butt"/>
<polyline points="1601.3,2326 2022.7,2326 2022.7,1951.3 1973.8,1951.3" fill="none" stroke="#000" stroke-width="3.3" stroke-linejoin="miter" stroke-linecap="butt"/>
<text x="1936.8" y="2095.3" font-size="35.6" transform="rotate(-90 1936.8 2095.3)">p=0.0023</text>
<text x="1994.9" y="2129" font-size="35.6" transform="rotate(-90 1994.9 2129)">p=0.99</text>
<text x="2059.7" y="2182.5" font-size="35.6" transform="rotate(-90 2059.7 2182.5)">p=0.99</text>
</svg>
</body></html>
